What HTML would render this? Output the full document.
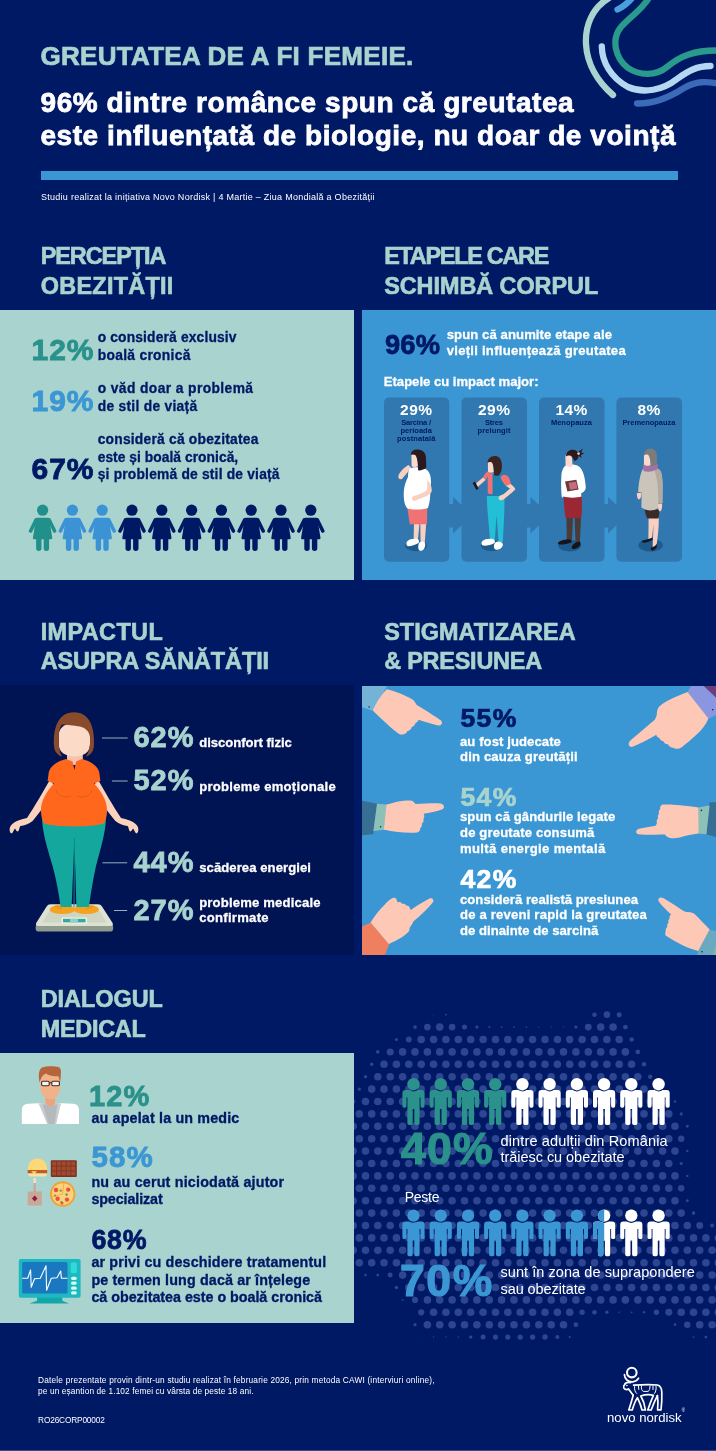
<!DOCTYPE html>
<html lang="ro"><head><meta charset="utf-8"><title>Greutatea de a fi femeie</title>
<style>
html,body{margin:0;padding:0}
body{width:716px;height:1451px;background:#001965;position:relative;overflow:hidden;font-family:"Liberation Sans",Arial,sans-serif}
.panel{position:absolute}
.p1{left:0;top:310px;width:354px;height:270px;background:#a8d3cf}
.p2{left:362px;top:310px;width:354px;height:270px;background:#3b97d3}
.p3{left:0;top:685px;width:354px;height:270px;background:#001353}
.p4{left:362px;top:686px;width:354px;height:269px;background:#3b97d3}
.p5{left:0;top:1053px;width:354px;height:269.5px;background:#a8d3cf}
.bar{position:absolute;left:41px;top:171px;width:637px;height:9px;background:#3b97d3}
.foot{position:absolute;left:0;top:1450px;width:716px;height:1px;background:#3a4a8c}
svg.g{position:absolute;left:0;top:0;width:716px;height:1451px}
.t{position:absolute;white-space:pre;line-height:1;margin:0;font-feature-settings:"liga" 1}
.b{font-weight:700}.r{font-weight:400}
.k3{-webkit-text-stroke:0.028em currentColor}
.k2{-webkit-text-stroke:0.022em currentColor}
</style></head>
<body>
<div class="bar"></div>
<div class="panel p1"></div><div class="panel p2"></div><div class="panel p3"></div><div class="panel p4"></div><div class="panel p5"></div>
<div class="foot"></div>
<svg class="g" viewBox="0 0 716 1451" width="716" height="1451">
<!-- swirl -->
<g fill="none" stroke-linecap="round" stroke-width="6.3">
<path d="M609 -2 C592 8 585 26 586 44 C587 64 598 82 613 95" stroke="#a8d3cf"/>
<path d="M617.5 9.5 C623 7 628 3 633 -3" stroke="#4a9fdc"/>
<path d="M650 -4 C644 8 630 17 621 27 C611 39 615 58 628 68 C640 76 656 76 667 67 C680 56 694 50 720 50.5" stroke="#2a9a8c"/>
<path d="M601.8 46.5 C602 62 611 78 628 87 C644 94 663 90 677 79 C688 71 697 66 710.5 66" stroke="#b5d8f2"/>
<path d="M637 103.5 C655 104 670 97 684 88 C696 81 706 81 720 84" stroke="#3a6ab8"/>
</g>

<!-- dots -->
<clipPath id="dotclip"><rect x="354" y="990" width="362" height="380"/></clipPath>
<g fill="#2e4592" clip-path="url(#dotclip)">
<circle cx="433.6" cy="1014.7" r="0.51"/>
<circle cx="445.9" cy="1014.7" r="0.92"/>
<circle cx="594.5" cy="1014.7" r="2.27"/>
<circle cx="606.9" cy="1014.7" r="3.37"/>
<circle cx="619.2" cy="1014.7" r="2.51"/>
<circle cx="415.0" cy="1027.1" r="1.84"/>
<circle cx="427.4" cy="1027.1" r="3.38"/>
<circle cx="439.7" cy="1027.1" r="3.80"/>
<circle cx="452.1" cy="1027.1" r="3.35"/>
<circle cx="464.5" cy="1027.1" r="2.52"/>
<circle cx="476.9" cy="1027.1" r="1.55"/>
<circle cx="489.3" cy="1027.1" r="1.00"/>
<circle cx="501.6" cy="1027.1" r="0.93"/>
<circle cx="514.0" cy="1027.1" r="0.85"/>
<circle cx="526.4" cy="1027.1" r="0.78"/>
<circle cx="538.8" cy="1027.1" r="0.71"/>
<circle cx="551.2" cy="1027.1" r="0.64"/>
<circle cx="563.5" cy="1027.1" r="0.57"/>
<circle cx="575.9" cy="1027.1" r="1.55"/>
<circle cx="588.3" cy="1027.1" r="3.42"/>
<circle cx="600.7" cy="1027.1" r="3.80"/>
<circle cx="613.1" cy="1027.1" r="3.80"/>
<circle cx="625.4" cy="1027.1" r="2.42"/>
<circle cx="396.4" cy="1039.5" r="1.53"/>
<circle cx="408.8" cy="1039.5" r="2.94"/>
<circle cx="421.2" cy="1039.5" r="3.80"/>
<circle cx="433.6" cy="1039.5" r="3.80"/>
<circle cx="445.9" cy="1039.5" r="3.80"/>
<circle cx="458.3" cy="1039.5" r="3.80"/>
<circle cx="470.7" cy="1039.5" r="3.80"/>
<circle cx="483.1" cy="1039.5" r="3.80"/>
<circle cx="495.5" cy="1039.5" r="3.80"/>
<circle cx="507.8" cy="1039.5" r="3.80"/>
<circle cx="520.2" cy="1039.5" r="3.80"/>
<circle cx="532.6" cy="1039.5" r="3.80"/>
<circle cx="545.0" cy="1039.5" r="3.80"/>
<circle cx="557.4" cy="1039.5" r="3.75"/>
<circle cx="569.7" cy="1039.5" r="3.67"/>
<circle cx="582.1" cy="1039.5" r="3.80"/>
<circle cx="594.5" cy="1039.5" r="3.80"/>
<circle cx="606.9" cy="1039.5" r="3.80"/>
<circle cx="619.2" cy="1039.5" r="3.80"/>
<circle cx="631.6" cy="1039.5" r="2.31"/>
<circle cx="377.8" cy="1051.9" r="1.78"/>
<circle cx="390.2" cy="1051.9" r="3.52"/>
<circle cx="402.6" cy="1051.9" r="3.80"/>
<circle cx="415.0" cy="1051.9" r="3.80"/>
<circle cx="427.4" cy="1051.9" r="3.80"/>
<circle cx="439.7" cy="1051.9" r="3.80"/>
<circle cx="452.1" cy="1051.9" r="3.80"/>
<circle cx="464.5" cy="1051.9" r="3.80"/>
<circle cx="476.9" cy="1051.9" r="3.80"/>
<circle cx="489.3" cy="1051.9" r="3.80"/>
<circle cx="501.6" cy="1051.9" r="3.80"/>
<circle cx="514.0" cy="1051.9" r="3.80"/>
<circle cx="526.4" cy="1051.9" r="3.80"/>
<circle cx="538.8" cy="1051.9" r="3.80"/>
<circle cx="551.2" cy="1051.9" r="3.80"/>
<circle cx="563.5" cy="1051.9" r="3.80"/>
<circle cx="575.9" cy="1051.9" r="3.80"/>
<circle cx="588.3" cy="1051.9" r="3.80"/>
<circle cx="600.7" cy="1051.9" r="3.80"/>
<circle cx="613.1" cy="1051.9" r="3.80"/>
<circle cx="625.4" cy="1051.9" r="3.80"/>
<circle cx="637.8" cy="1051.9" r="2.31"/>
<circle cx="371.7" cy="1064.3" r="1.72"/>
<circle cx="384.0" cy="1064.3" r="3.80"/>
<circle cx="396.4" cy="1064.3" r="3.80"/>
<circle cx="408.8" cy="1064.3" r="3.80"/>
<circle cx="421.2" cy="1064.3" r="3.80"/>
<circle cx="433.6" cy="1064.3" r="3.80"/>
<circle cx="445.9" cy="1064.3" r="3.80"/>
<circle cx="458.3" cy="1064.3" r="3.80"/>
<circle cx="470.7" cy="1064.3" r="3.80"/>
<circle cx="483.1" cy="1064.3" r="3.80"/>
<circle cx="495.5" cy="1064.3" r="3.80"/>
<circle cx="507.8" cy="1064.3" r="3.80"/>
<circle cx="520.2" cy="1064.3" r="3.80"/>
<circle cx="532.6" cy="1064.3" r="3.80"/>
<circle cx="545.0" cy="1064.3" r="3.80"/>
<circle cx="557.4" cy="1064.3" r="3.80"/>
<circle cx="569.7" cy="1064.3" r="3.80"/>
<circle cx="582.1" cy="1064.3" r="3.80"/>
<circle cx="594.5" cy="1064.3" r="3.80"/>
<circle cx="606.9" cy="1064.3" r="3.80"/>
<circle cx="619.2" cy="1064.3" r="3.80"/>
<circle cx="631.6" cy="1064.3" r="3.80"/>
<circle cx="644.0" cy="1064.3" r="2.31"/>
<circle cx="365.5" cy="1076.7" r="1.67"/>
<circle cx="377.8" cy="1076.7" r="3.80"/>
<circle cx="390.2" cy="1076.7" r="3.80"/>
<circle cx="402.6" cy="1076.7" r="3.80"/>
<circle cx="415.0" cy="1076.7" r="3.80"/>
<circle cx="427.4" cy="1076.7" r="3.80"/>
<circle cx="439.7" cy="1076.7" r="3.80"/>
<circle cx="452.1" cy="1076.7" r="3.80"/>
<circle cx="464.5" cy="1076.7" r="3.80"/>
<circle cx="476.9" cy="1076.7" r="3.80"/>
<circle cx="489.3" cy="1076.7" r="3.80"/>
<circle cx="501.6" cy="1076.7" r="3.80"/>
<circle cx="514.0" cy="1076.7" r="3.80"/>
<circle cx="526.4" cy="1076.7" r="3.80"/>
<circle cx="538.8" cy="1076.7" r="3.80"/>
<circle cx="551.2" cy="1076.7" r="3.80"/>
<circle cx="563.5" cy="1076.7" r="3.80"/>
<circle cx="575.9" cy="1076.7" r="3.80"/>
<circle cx="588.3" cy="1076.7" r="3.80"/>
<circle cx="600.7" cy="1076.7" r="3.80"/>
<circle cx="613.1" cy="1076.7" r="3.80"/>
<circle cx="625.4" cy="1076.7" r="3.80"/>
<circle cx="637.8" cy="1076.7" r="3.80"/>
<circle cx="650.2" cy="1076.7" r="2.20"/>
<circle cx="359.3" cy="1089.1" r="1.67"/>
<circle cx="371.7" cy="1089.1" r="3.80"/>
<circle cx="384.0" cy="1089.1" r="3.80"/>
<circle cx="396.4" cy="1089.1" r="3.80"/>
<circle cx="408.8" cy="1089.1" r="3.80"/>
<circle cx="421.2" cy="1089.1" r="3.80"/>
<circle cx="433.6" cy="1089.1" r="3.80"/>
<circle cx="445.9" cy="1089.1" r="3.80"/>
<circle cx="458.3" cy="1089.1" r="3.80"/>
<circle cx="470.7" cy="1089.1" r="3.80"/>
<circle cx="483.1" cy="1089.1" r="3.80"/>
<circle cx="495.5" cy="1089.1" r="3.80"/>
<circle cx="507.8" cy="1089.1" r="3.80"/>
<circle cx="520.2" cy="1089.1" r="3.80"/>
<circle cx="532.6" cy="1089.1" r="3.80"/>
<circle cx="545.0" cy="1089.1" r="3.80"/>
<circle cx="557.4" cy="1089.1" r="3.80"/>
<circle cx="569.7" cy="1089.1" r="3.80"/>
<circle cx="582.1" cy="1089.1" r="3.80"/>
<circle cx="594.5" cy="1089.1" r="3.80"/>
<circle cx="606.9" cy="1089.1" r="3.80"/>
<circle cx="619.2" cy="1089.1" r="3.80"/>
<circle cx="631.6" cy="1089.1" r="3.80"/>
<circle cx="644.0" cy="1089.1" r="3.80"/>
<circle cx="656.4" cy="1089.1" r="2.63"/>
<circle cx="353.1" cy="1101.5" r="2.21"/>
<circle cx="365.5" cy="1101.5" r="3.80"/>
<circle cx="377.8" cy="1101.5" r="3.80"/>
<circle cx="390.2" cy="1101.5" r="3.80"/>
<circle cx="402.6" cy="1101.5" r="3.80"/>
<circle cx="415.0" cy="1101.5" r="3.80"/>
<circle cx="427.4" cy="1101.5" r="3.80"/>
<circle cx="439.7" cy="1101.5" r="3.80"/>
<circle cx="452.1" cy="1101.5" r="3.80"/>
<circle cx="464.5" cy="1101.5" r="3.80"/>
<circle cx="476.9" cy="1101.5" r="3.80"/>
<circle cx="489.3" cy="1101.5" r="3.80"/>
<circle cx="501.6" cy="1101.5" r="3.80"/>
<circle cx="514.0" cy="1101.5" r="3.80"/>
<circle cx="526.4" cy="1101.5" r="3.80"/>
<circle cx="538.8" cy="1101.5" r="3.80"/>
<circle cx="551.2" cy="1101.5" r="3.80"/>
<circle cx="563.5" cy="1101.5" r="3.80"/>
<circle cx="575.9" cy="1101.5" r="3.80"/>
<circle cx="588.3" cy="1101.5" r="3.80"/>
<circle cx="600.7" cy="1101.5" r="3.80"/>
<circle cx="613.1" cy="1101.5" r="3.80"/>
<circle cx="625.4" cy="1101.5" r="3.80"/>
<circle cx="637.8" cy="1101.5" r="3.80"/>
<circle cx="650.2" cy="1101.5" r="3.80"/>
<circle cx="662.6" cy="1101.5" r="3.70"/>
<circle cx="675.0" cy="1101.5" r="1.28"/>
<circle cx="346.9" cy="1113.9" r="3.80"/>
<circle cx="359.3" cy="1113.9" r="3.80"/>
<circle cx="371.7" cy="1113.9" r="3.80"/>
<circle cx="384.0" cy="1113.9" r="3.80"/>
<circle cx="396.4" cy="1113.9" r="3.80"/>
<circle cx="408.8" cy="1113.9" r="3.80"/>
<circle cx="421.2" cy="1113.9" r="3.80"/>
<circle cx="433.6" cy="1113.9" r="3.80"/>
<circle cx="445.9" cy="1113.9" r="3.80"/>
<circle cx="458.3" cy="1113.9" r="3.80"/>
<circle cx="470.7" cy="1113.9" r="3.80"/>
<circle cx="483.1" cy="1113.9" r="3.80"/>
<circle cx="495.5" cy="1113.9" r="3.80"/>
<circle cx="507.8" cy="1113.9" r="3.80"/>
<circle cx="520.2" cy="1113.9" r="3.80"/>
<circle cx="532.6" cy="1113.9" r="3.80"/>
<circle cx="545.0" cy="1113.9" r="3.80"/>
<circle cx="557.4" cy="1113.9" r="3.80"/>
<circle cx="569.7" cy="1113.9" r="3.80"/>
<circle cx="582.1" cy="1113.9" r="3.80"/>
<circle cx="594.5" cy="1113.9" r="3.80"/>
<circle cx="606.9" cy="1113.9" r="3.80"/>
<circle cx="619.2" cy="1113.9" r="3.80"/>
<circle cx="631.6" cy="1113.9" r="3.80"/>
<circle cx="644.0" cy="1113.9" r="3.80"/>
<circle cx="656.4" cy="1113.9" r="3.80"/>
<circle cx="668.8" cy="1113.9" r="3.80"/>
<circle cx="681.2" cy="1113.9" r="1.55"/>
<circle cx="353.1" cy="1126.3" r="3.80"/>
<circle cx="365.5" cy="1126.3" r="3.80"/>
<circle cx="377.8" cy="1126.3" r="3.80"/>
<circle cx="390.2" cy="1126.3" r="3.80"/>
<circle cx="402.6" cy="1126.3" r="3.80"/>
<circle cx="415.0" cy="1126.3" r="3.80"/>
<circle cx="427.4" cy="1126.3" r="3.80"/>
<circle cx="439.7" cy="1126.3" r="3.80"/>
<circle cx="452.1" cy="1126.3" r="3.80"/>
<circle cx="464.5" cy="1126.3" r="3.80"/>
<circle cx="476.9" cy="1126.3" r="3.80"/>
<circle cx="489.3" cy="1126.3" r="3.80"/>
<circle cx="501.6" cy="1126.3" r="3.80"/>
<circle cx="514.0" cy="1126.3" r="3.80"/>
<circle cx="526.4" cy="1126.3" r="3.80"/>
<circle cx="538.8" cy="1126.3" r="3.80"/>
<circle cx="551.2" cy="1126.3" r="3.80"/>
<circle cx="563.5" cy="1126.3" r="3.80"/>
<circle cx="575.9" cy="1126.3" r="3.80"/>
<circle cx="588.3" cy="1126.3" r="3.80"/>
<circle cx="600.7" cy="1126.3" r="3.80"/>
<circle cx="613.1" cy="1126.3" r="3.80"/>
<circle cx="625.4" cy="1126.3" r="3.80"/>
<circle cx="637.8" cy="1126.3" r="3.80"/>
<circle cx="650.2" cy="1126.3" r="3.80"/>
<circle cx="662.6" cy="1126.3" r="3.80"/>
<circle cx="675.0" cy="1126.3" r="3.80"/>
<circle cx="687.3" cy="1126.3" r="1.44"/>
<circle cx="346.9" cy="1138.7" r="3.80"/>
<circle cx="359.3" cy="1138.7" r="3.80"/>
<circle cx="371.7" cy="1138.7" r="3.80"/>
<circle cx="384.0" cy="1138.7" r="3.80"/>
<circle cx="396.4" cy="1138.7" r="3.80"/>
<circle cx="408.8" cy="1138.7" r="3.80"/>
<circle cx="421.2" cy="1138.7" r="3.80"/>
<circle cx="433.6" cy="1138.7" r="3.80"/>
<circle cx="445.9" cy="1138.7" r="3.80"/>
<circle cx="458.3" cy="1138.7" r="3.80"/>
<circle cx="470.7" cy="1138.7" r="3.80"/>
<circle cx="483.1" cy="1138.7" r="3.80"/>
<circle cx="495.5" cy="1138.7" r="3.80"/>
<circle cx="507.8" cy="1138.7" r="3.80"/>
<circle cx="520.2" cy="1138.7" r="3.80"/>
<circle cx="532.6" cy="1138.7" r="3.80"/>
<circle cx="545.0" cy="1138.7" r="3.80"/>
<circle cx="557.4" cy="1138.7" r="3.80"/>
<circle cx="569.7" cy="1138.7" r="3.80"/>
<circle cx="582.1" cy="1138.7" r="3.80"/>
<circle cx="594.5" cy="1138.7" r="3.80"/>
<circle cx="606.9" cy="1138.7" r="3.80"/>
<circle cx="619.2" cy="1138.7" r="3.80"/>
<circle cx="631.6" cy="1138.7" r="3.80"/>
<circle cx="644.0" cy="1138.7" r="3.80"/>
<circle cx="656.4" cy="1138.7" r="3.80"/>
<circle cx="668.8" cy="1138.7" r="3.80"/>
<circle cx="681.2" cy="1138.7" r="3.23"/>
<circle cx="353.1" cy="1151.1" r="3.80"/>
<circle cx="365.5" cy="1151.1" r="3.80"/>
<circle cx="377.8" cy="1151.1" r="3.80"/>
<circle cx="390.2" cy="1151.1" r="3.80"/>
<circle cx="402.6" cy="1151.1" r="3.80"/>
<circle cx="415.0" cy="1151.1" r="3.80"/>
<circle cx="427.4" cy="1151.1" r="3.80"/>
<circle cx="439.7" cy="1151.1" r="3.80"/>
<circle cx="452.1" cy="1151.1" r="3.80"/>
<circle cx="464.5" cy="1151.1" r="3.80"/>
<circle cx="476.9" cy="1151.1" r="3.80"/>
<circle cx="489.3" cy="1151.1" r="3.80"/>
<circle cx="501.6" cy="1151.1" r="3.80"/>
<circle cx="514.0" cy="1151.1" r="3.80"/>
<circle cx="526.4" cy="1151.1" r="3.80"/>
<circle cx="538.8" cy="1151.1" r="3.80"/>
<circle cx="551.2" cy="1151.1" r="3.80"/>
<circle cx="563.5" cy="1151.1" r="3.80"/>
<circle cx="575.9" cy="1151.1" r="3.80"/>
<circle cx="588.3" cy="1151.1" r="3.80"/>
<circle cx="600.7" cy="1151.1" r="3.80"/>
<circle cx="613.1" cy="1151.1" r="3.80"/>
<circle cx="625.4" cy="1151.1" r="3.80"/>
<circle cx="637.8" cy="1151.1" r="3.80"/>
<circle cx="650.2" cy="1151.1" r="3.80"/>
<circle cx="662.6" cy="1151.1" r="3.80"/>
<circle cx="675.0" cy="1151.1" r="3.80"/>
<circle cx="687.3" cy="1151.1" r="1.23"/>
<circle cx="346.9" cy="1163.5" r="3.80"/>
<circle cx="359.3" cy="1163.5" r="3.80"/>
<circle cx="371.7" cy="1163.5" r="3.80"/>
<circle cx="384.0" cy="1163.5" r="3.80"/>
<circle cx="396.4" cy="1163.5" r="3.80"/>
<circle cx="408.8" cy="1163.5" r="3.80"/>
<circle cx="421.2" cy="1163.5" r="3.80"/>
<circle cx="433.6" cy="1163.5" r="3.80"/>
<circle cx="445.9" cy="1163.5" r="3.80"/>
<circle cx="458.3" cy="1163.5" r="3.80"/>
<circle cx="470.7" cy="1163.5" r="3.80"/>
<circle cx="483.1" cy="1163.5" r="3.80"/>
<circle cx="495.5" cy="1163.5" r="3.80"/>
<circle cx="507.8" cy="1163.5" r="3.80"/>
<circle cx="520.2" cy="1163.5" r="3.80"/>
<circle cx="532.6" cy="1163.5" r="3.80"/>
<circle cx="545.0" cy="1163.5" r="3.80"/>
<circle cx="557.4" cy="1163.5" r="3.80"/>
<circle cx="569.7" cy="1163.5" r="3.80"/>
<circle cx="582.1" cy="1163.5" r="3.80"/>
<circle cx="594.5" cy="1163.5" r="3.80"/>
<circle cx="606.9" cy="1163.5" r="3.80"/>
<circle cx="619.2" cy="1163.5" r="3.80"/>
<circle cx="631.6" cy="1163.5" r="3.80"/>
<circle cx="644.0" cy="1163.5" r="3.80"/>
<circle cx="656.4" cy="1163.5" r="3.80"/>
<circle cx="668.8" cy="1163.5" r="3.80"/>
<circle cx="681.2" cy="1163.5" r="1.56"/>
<circle cx="353.1" cy="1175.9" r="3.80"/>
<circle cx="365.5" cy="1175.9" r="3.80"/>
<circle cx="377.8" cy="1175.9" r="3.80"/>
<circle cx="390.2" cy="1175.9" r="3.80"/>
<circle cx="402.6" cy="1175.9" r="3.80"/>
<circle cx="415.0" cy="1175.9" r="3.80"/>
<circle cx="427.4" cy="1175.9" r="3.80"/>
<circle cx="439.7" cy="1175.9" r="3.80"/>
<circle cx="452.1" cy="1175.9" r="3.80"/>
<circle cx="464.5" cy="1175.9" r="3.80"/>
<circle cx="476.9" cy="1175.9" r="3.80"/>
<circle cx="489.3" cy="1175.9" r="3.80"/>
<circle cx="501.6" cy="1175.9" r="3.80"/>
<circle cx="514.0" cy="1175.9" r="3.80"/>
<circle cx="526.4" cy="1175.9" r="3.80"/>
<circle cx="538.8" cy="1175.9" r="3.80"/>
<circle cx="551.2" cy="1175.9" r="3.80"/>
<circle cx="563.5" cy="1175.9" r="3.80"/>
<circle cx="575.9" cy="1175.9" r="3.80"/>
<circle cx="588.3" cy="1175.9" r="3.80"/>
<circle cx="600.7" cy="1175.9" r="3.80"/>
<circle cx="613.1" cy="1175.9" r="3.80"/>
<circle cx="625.4" cy="1175.9" r="3.80"/>
<circle cx="637.8" cy="1175.9" r="3.80"/>
<circle cx="650.2" cy="1175.9" r="3.80"/>
<circle cx="662.6" cy="1175.9" r="3.80"/>
<circle cx="675.0" cy="1175.9" r="3.80"/>
<circle cx="687.3" cy="1175.9" r="1.19"/>
<circle cx="346.9" cy="1188.3" r="3.80"/>
<circle cx="359.3" cy="1188.3" r="3.80"/>
<circle cx="371.7" cy="1188.3" r="3.80"/>
<circle cx="384.0" cy="1188.3" r="3.80"/>
<circle cx="396.4" cy="1188.3" r="3.80"/>
<circle cx="408.8" cy="1188.3" r="3.80"/>
<circle cx="421.2" cy="1188.3" r="3.80"/>
<circle cx="433.6" cy="1188.3" r="3.80"/>
<circle cx="445.9" cy="1188.3" r="3.80"/>
<circle cx="458.3" cy="1188.3" r="3.80"/>
<circle cx="470.7" cy="1188.3" r="3.80"/>
<circle cx="483.1" cy="1188.3" r="3.80"/>
<circle cx="495.5" cy="1188.3" r="3.80"/>
<circle cx="507.8" cy="1188.3" r="3.80"/>
<circle cx="520.2" cy="1188.3" r="3.80"/>
<circle cx="532.6" cy="1188.3" r="3.80"/>
<circle cx="545.0" cy="1188.3" r="3.80"/>
<circle cx="557.4" cy="1188.3" r="3.80"/>
<circle cx="569.7" cy="1188.3" r="3.80"/>
<circle cx="582.1" cy="1188.3" r="3.80"/>
<circle cx="594.5" cy="1188.3" r="3.80"/>
<circle cx="606.9" cy="1188.3" r="3.80"/>
<circle cx="619.2" cy="1188.3" r="3.80"/>
<circle cx="631.6" cy="1188.3" r="3.80"/>
<circle cx="644.0" cy="1188.3" r="3.80"/>
<circle cx="656.4" cy="1188.3" r="3.80"/>
<circle cx="668.8" cy="1188.3" r="3.80"/>
<circle cx="681.2" cy="1188.3" r="3.25"/>
<circle cx="353.1" cy="1200.7" r="3.80"/>
<circle cx="365.5" cy="1200.7" r="3.80"/>
<circle cx="377.8" cy="1200.7" r="3.80"/>
<circle cx="390.2" cy="1200.7" r="3.80"/>
<circle cx="402.6" cy="1200.7" r="3.80"/>
<circle cx="415.0" cy="1200.7" r="3.80"/>
<circle cx="427.4" cy="1200.7" r="3.80"/>
<circle cx="439.7" cy="1200.7" r="3.80"/>
<circle cx="452.1" cy="1200.7" r="3.80"/>
<circle cx="464.5" cy="1200.7" r="3.80"/>
<circle cx="476.9" cy="1200.7" r="3.80"/>
<circle cx="489.3" cy="1200.7" r="3.80"/>
<circle cx="501.6" cy="1200.7" r="3.80"/>
<circle cx="514.0" cy="1200.7" r="3.80"/>
<circle cx="526.4" cy="1200.7" r="3.80"/>
<circle cx="538.8" cy="1200.7" r="3.80"/>
<circle cx="551.2" cy="1200.7" r="3.80"/>
<circle cx="563.5" cy="1200.7" r="3.80"/>
<circle cx="575.9" cy="1200.7" r="3.80"/>
<circle cx="588.3" cy="1200.7" r="3.80"/>
<circle cx="600.7" cy="1200.7" r="3.80"/>
<circle cx="613.1" cy="1200.7" r="3.80"/>
<circle cx="625.4" cy="1200.7" r="3.80"/>
<circle cx="637.8" cy="1200.7" r="3.80"/>
<circle cx="650.2" cy="1200.7" r="3.80"/>
<circle cx="662.6" cy="1200.7" r="3.80"/>
<circle cx="675.0" cy="1200.7" r="3.80"/>
<circle cx="687.3" cy="1200.7" r="1.49"/>
<circle cx="346.9" cy="1213.1" r="3.80"/>
<circle cx="359.3" cy="1213.1" r="3.80"/>
<circle cx="371.7" cy="1213.1" r="3.80"/>
<circle cx="384.0" cy="1213.1" r="3.80"/>
<circle cx="396.4" cy="1213.1" r="3.80"/>
<circle cx="408.8" cy="1213.1" r="3.80"/>
<circle cx="421.2" cy="1213.1" r="3.80"/>
<circle cx="433.6" cy="1213.1" r="3.80"/>
<circle cx="445.9" cy="1213.1" r="3.80"/>
<circle cx="458.3" cy="1213.1" r="3.80"/>
<circle cx="470.7" cy="1213.1" r="3.80"/>
<circle cx="483.1" cy="1213.1" r="3.80"/>
<circle cx="495.5" cy="1213.1" r="3.80"/>
<circle cx="507.8" cy="1213.1" r="3.80"/>
<circle cx="520.2" cy="1213.1" r="3.80"/>
<circle cx="532.6" cy="1213.1" r="3.80"/>
<circle cx="545.0" cy="1213.1" r="3.80"/>
<circle cx="557.4" cy="1213.1" r="3.80"/>
<circle cx="569.7" cy="1213.1" r="3.80"/>
<circle cx="582.1" cy="1213.1" r="3.80"/>
<circle cx="594.5" cy="1213.1" r="3.80"/>
<circle cx="606.9" cy="1213.1" r="3.80"/>
<circle cx="619.2" cy="1213.1" r="3.80"/>
<circle cx="631.6" cy="1213.1" r="3.80"/>
<circle cx="644.0" cy="1213.1" r="3.80"/>
<circle cx="656.4" cy="1213.1" r="3.80"/>
<circle cx="668.8" cy="1213.1" r="3.80"/>
<circle cx="681.2" cy="1213.1" r="3.80"/>
<circle cx="693.5" cy="1213.1" r="1.79"/>
<circle cx="353.1" cy="1225.5" r="3.80"/>
<circle cx="365.5" cy="1225.5" r="3.80"/>
<circle cx="377.8" cy="1225.5" r="3.80"/>
<circle cx="390.2" cy="1225.5" r="3.80"/>
<circle cx="402.6" cy="1225.5" r="3.80"/>
<circle cx="415.0" cy="1225.5" r="3.80"/>
<circle cx="427.4" cy="1225.5" r="3.80"/>
<circle cx="439.7" cy="1225.5" r="3.80"/>
<circle cx="452.1" cy="1225.5" r="3.80"/>
<circle cx="464.5" cy="1225.5" r="3.80"/>
<circle cx="476.9" cy="1225.5" r="3.80"/>
<circle cx="489.3" cy="1225.5" r="3.80"/>
<circle cx="501.6" cy="1225.5" r="3.80"/>
<circle cx="514.0" cy="1225.5" r="3.80"/>
<circle cx="526.4" cy="1225.5" r="3.80"/>
<circle cx="538.8" cy="1225.5" r="3.80"/>
<circle cx="551.2" cy="1225.5" r="3.80"/>
<circle cx="563.5" cy="1225.5" r="3.80"/>
<circle cx="575.9" cy="1225.5" r="3.80"/>
<circle cx="588.3" cy="1225.5" r="3.80"/>
<circle cx="600.7" cy="1225.5" r="3.80"/>
<circle cx="613.1" cy="1225.5" r="3.80"/>
<circle cx="625.4" cy="1225.5" r="3.80"/>
<circle cx="637.8" cy="1225.5" r="3.80"/>
<circle cx="650.2" cy="1225.5" r="3.80"/>
<circle cx="662.6" cy="1225.5" r="3.80"/>
<circle cx="675.0" cy="1225.5" r="3.80"/>
<circle cx="687.3" cy="1225.5" r="3.80"/>
<circle cx="699.7" cy="1225.5" r="3.46"/>
<circle cx="712.1" cy="1225.5" r="1.96"/>
<circle cx="346.9" cy="1237.9" r="3.80"/>
<circle cx="359.3" cy="1237.9" r="3.80"/>
<circle cx="371.7" cy="1237.9" r="3.80"/>
<circle cx="384.0" cy="1237.9" r="3.80"/>
<circle cx="396.4" cy="1237.9" r="3.80"/>
<circle cx="408.8" cy="1237.9" r="3.80"/>
<circle cx="421.2" cy="1237.9" r="3.80"/>
<circle cx="433.6" cy="1237.9" r="3.80"/>
<circle cx="445.9" cy="1237.9" r="3.80"/>
<circle cx="458.3" cy="1237.9" r="3.80"/>
<circle cx="470.7" cy="1237.9" r="3.80"/>
<circle cx="483.1" cy="1237.9" r="3.80"/>
<circle cx="495.5" cy="1237.9" r="3.80"/>
<circle cx="507.8" cy="1237.9" r="3.80"/>
<circle cx="520.2" cy="1237.9" r="3.80"/>
<circle cx="532.6" cy="1237.9" r="3.80"/>
<circle cx="545.0" cy="1237.9" r="3.80"/>
<circle cx="557.4" cy="1237.9" r="3.80"/>
<circle cx="569.7" cy="1237.9" r="3.80"/>
<circle cx="582.1" cy="1237.9" r="3.80"/>
<circle cx="594.5" cy="1237.9" r="3.80"/>
<circle cx="606.9" cy="1237.9" r="3.80"/>
<circle cx="619.2" cy="1237.9" r="3.80"/>
<circle cx="631.6" cy="1237.9" r="3.80"/>
<circle cx="644.0" cy="1237.9" r="3.80"/>
<circle cx="656.4" cy="1237.9" r="3.80"/>
<circle cx="668.8" cy="1237.9" r="3.80"/>
<circle cx="681.2" cy="1237.9" r="3.80"/>
<circle cx="693.5" cy="1237.9" r="3.80"/>
<circle cx="705.9" cy="1237.9" r="3.80"/>
<circle cx="718.3" cy="1237.9" r="3.80"/>
<circle cx="353.1" cy="1250.3" r="3.80"/>
<circle cx="365.5" cy="1250.3" r="3.80"/>
<circle cx="377.8" cy="1250.3" r="3.80"/>
<circle cx="390.2" cy="1250.3" r="3.80"/>
<circle cx="402.6" cy="1250.3" r="3.80"/>
<circle cx="415.0" cy="1250.3" r="3.80"/>
<circle cx="427.4" cy="1250.3" r="3.80"/>
<circle cx="439.7" cy="1250.3" r="3.80"/>
<circle cx="452.1" cy="1250.3" r="3.80"/>
<circle cx="464.5" cy="1250.3" r="3.80"/>
<circle cx="476.9" cy="1250.3" r="3.80"/>
<circle cx="489.3" cy="1250.3" r="3.80"/>
<circle cx="501.6" cy="1250.3" r="3.80"/>
<circle cx="514.0" cy="1250.3" r="3.80"/>
<circle cx="526.4" cy="1250.3" r="3.80"/>
<circle cx="538.8" cy="1250.3" r="3.80"/>
<circle cx="551.2" cy="1250.3" r="3.80"/>
<circle cx="563.5" cy="1250.3" r="3.80"/>
<circle cx="575.9" cy="1250.3" r="3.80"/>
<circle cx="588.3" cy="1250.3" r="3.80"/>
<circle cx="600.7" cy="1250.3" r="3.80"/>
<circle cx="613.1" cy="1250.3" r="3.80"/>
<circle cx="625.4" cy="1250.3" r="3.80"/>
<circle cx="637.8" cy="1250.3" r="3.80"/>
<circle cx="650.2" cy="1250.3" r="3.80"/>
<circle cx="662.6" cy="1250.3" r="3.80"/>
<circle cx="675.0" cy="1250.3" r="3.80"/>
<circle cx="687.3" cy="1250.3" r="3.80"/>
<circle cx="699.7" cy="1250.3" r="3.80"/>
<circle cx="712.1" cy="1250.3" r="3.80"/>
<circle cx="346.9" cy="1262.7" r="3.80"/>
<circle cx="359.3" cy="1262.7" r="3.80"/>
<circle cx="371.7" cy="1262.7" r="3.80"/>
<circle cx="384.0" cy="1262.7" r="3.80"/>
<circle cx="396.4" cy="1262.7" r="3.80"/>
<circle cx="408.8" cy="1262.7" r="3.80"/>
<circle cx="421.2" cy="1262.7" r="3.80"/>
<circle cx="433.6" cy="1262.7" r="3.80"/>
<circle cx="445.9" cy="1262.7" r="3.80"/>
<circle cx="458.3" cy="1262.7" r="3.80"/>
<circle cx="470.7" cy="1262.7" r="3.80"/>
<circle cx="483.1" cy="1262.7" r="3.80"/>
<circle cx="495.5" cy="1262.7" r="3.80"/>
<circle cx="507.8" cy="1262.7" r="3.80"/>
<circle cx="520.2" cy="1262.7" r="3.80"/>
<circle cx="532.6" cy="1262.7" r="3.80"/>
<circle cx="545.0" cy="1262.7" r="3.80"/>
<circle cx="557.4" cy="1262.7" r="3.80"/>
<circle cx="569.7" cy="1262.7" r="3.80"/>
<circle cx="582.1" cy="1262.7" r="3.80"/>
<circle cx="594.5" cy="1262.7" r="3.80"/>
<circle cx="606.9" cy="1262.7" r="3.80"/>
<circle cx="619.2" cy="1262.7" r="3.80"/>
<circle cx="631.6" cy="1262.7" r="3.80"/>
<circle cx="644.0" cy="1262.7" r="3.80"/>
<circle cx="656.4" cy="1262.7" r="3.80"/>
<circle cx="668.8" cy="1262.7" r="3.80"/>
<circle cx="681.2" cy="1262.7" r="3.80"/>
<circle cx="693.5" cy="1262.7" r="3.80"/>
<circle cx="705.9" cy="1262.7" r="3.80"/>
<circle cx="718.3" cy="1262.7" r="3.80"/>
<circle cx="353.1" cy="1275.1" r="1.20"/>
<circle cx="365.5" cy="1275.1" r="1.32"/>
<circle cx="377.8" cy="1275.1" r="1.43"/>
<circle cx="390.2" cy="1275.1" r="2.49"/>
<circle cx="402.6" cy="1275.1" r="3.80"/>
<circle cx="415.0" cy="1275.1" r="3.80"/>
<circle cx="427.4" cy="1275.1" r="3.80"/>
<circle cx="439.7" cy="1275.1" r="3.80"/>
<circle cx="452.1" cy="1275.1" r="3.80"/>
<circle cx="464.5" cy="1275.1" r="3.80"/>
<circle cx="476.9" cy="1275.1" r="3.80"/>
<circle cx="489.3" cy="1275.1" r="3.80"/>
<circle cx="501.6" cy="1275.1" r="3.80"/>
<circle cx="514.0" cy="1275.1" r="3.80"/>
<circle cx="526.4" cy="1275.1" r="3.80"/>
<circle cx="538.8" cy="1275.1" r="3.80"/>
<circle cx="551.2" cy="1275.1" r="3.80"/>
<circle cx="563.5" cy="1275.1" r="3.80"/>
<circle cx="575.9" cy="1275.1" r="3.80"/>
<circle cx="588.3" cy="1275.1" r="3.80"/>
<circle cx="600.7" cy="1275.1" r="3.80"/>
<circle cx="613.1" cy="1275.1" r="3.80"/>
<circle cx="625.4" cy="1275.1" r="3.80"/>
<circle cx="637.8" cy="1275.1" r="3.80"/>
<circle cx="650.2" cy="1275.1" r="3.80"/>
<circle cx="662.6" cy="1275.1" r="3.80"/>
<circle cx="675.0" cy="1275.1" r="3.80"/>
<circle cx="687.3" cy="1275.1" r="3.80"/>
<circle cx="699.7" cy="1275.1" r="3.80"/>
<circle cx="712.1" cy="1275.1" r="3.80"/>
<circle cx="396.4" cy="1287.5" r="1.75"/>
<circle cx="408.8" cy="1287.5" r="3.80"/>
<circle cx="421.2" cy="1287.5" r="3.80"/>
<circle cx="433.6" cy="1287.5" r="3.80"/>
<circle cx="445.9" cy="1287.5" r="3.80"/>
<circle cx="458.3" cy="1287.5" r="3.80"/>
<circle cx="470.7" cy="1287.5" r="3.80"/>
<circle cx="483.1" cy="1287.5" r="3.80"/>
<circle cx="495.5" cy="1287.5" r="3.80"/>
<circle cx="507.8" cy="1287.5" r="3.80"/>
<circle cx="520.2" cy="1287.5" r="3.80"/>
<circle cx="532.6" cy="1287.5" r="3.80"/>
<circle cx="545.0" cy="1287.5" r="3.80"/>
<circle cx="557.4" cy="1287.5" r="3.80"/>
<circle cx="569.7" cy="1287.5" r="3.80"/>
<circle cx="582.1" cy="1287.5" r="3.80"/>
<circle cx="594.5" cy="1287.5" r="3.80"/>
<circle cx="606.9" cy="1287.5" r="3.80"/>
<circle cx="619.2" cy="1287.5" r="3.80"/>
<circle cx="631.6" cy="1287.5" r="3.80"/>
<circle cx="644.0" cy="1287.5" r="3.80"/>
<circle cx="656.4" cy="1287.5" r="3.80"/>
<circle cx="668.8" cy="1287.5" r="3.80"/>
<circle cx="681.2" cy="1287.5" r="3.80"/>
<circle cx="693.5" cy="1287.5" r="3.80"/>
<circle cx="705.9" cy="1287.5" r="3.80"/>
<circle cx="718.3" cy="1287.5" r="3.80"/>
<circle cx="402.6" cy="1299.9" r="0.88"/>
<circle cx="415.0" cy="1299.9" r="3.08"/>
<circle cx="427.4" cy="1299.9" r="3.80"/>
<circle cx="439.7" cy="1299.9" r="3.80"/>
<circle cx="452.1" cy="1299.9" r="3.80"/>
<circle cx="464.5" cy="1299.9" r="3.80"/>
<circle cx="476.9" cy="1299.9" r="3.80"/>
<circle cx="489.3" cy="1299.9" r="3.80"/>
<circle cx="501.6" cy="1299.9" r="3.80"/>
<circle cx="514.0" cy="1299.9" r="3.80"/>
<circle cx="526.4" cy="1299.9" r="3.80"/>
<circle cx="538.8" cy="1299.9" r="3.80"/>
<circle cx="551.2" cy="1299.9" r="3.80"/>
<circle cx="563.5" cy="1299.9" r="3.80"/>
<circle cx="575.9" cy="1299.9" r="3.80"/>
<circle cx="588.3" cy="1299.9" r="3.80"/>
<circle cx="600.7" cy="1299.9" r="3.80"/>
<circle cx="613.1" cy="1299.9" r="3.80"/>
<circle cx="625.4" cy="1299.9" r="3.80"/>
<circle cx="637.8" cy="1299.9" r="3.80"/>
<circle cx="650.2" cy="1299.9" r="3.80"/>
<circle cx="662.6" cy="1299.9" r="3.80"/>
<circle cx="675.0" cy="1299.9" r="3.80"/>
<circle cx="687.3" cy="1299.9" r="3.80"/>
<circle cx="699.7" cy="1299.9" r="3.80"/>
<circle cx="712.1" cy="1299.9" r="3.80"/>
<circle cx="421.2" cy="1312.3" r="3.09"/>
<circle cx="433.6" cy="1312.3" r="3.80"/>
<circle cx="445.9" cy="1312.3" r="3.80"/>
<circle cx="458.3" cy="1312.3" r="3.80"/>
<circle cx="470.7" cy="1312.3" r="3.80"/>
<circle cx="483.1" cy="1312.3" r="3.80"/>
<circle cx="495.5" cy="1312.3" r="3.80"/>
<circle cx="507.8" cy="1312.3" r="3.80"/>
<circle cx="520.2" cy="1312.3" r="3.80"/>
<circle cx="532.6" cy="1312.3" r="3.80"/>
<circle cx="545.0" cy="1312.3" r="3.80"/>
<circle cx="557.4" cy="1312.3" r="3.80"/>
<circle cx="569.7" cy="1312.3" r="3.80"/>
<circle cx="582.1" cy="1312.3" r="2.70"/>
<circle cx="594.5" cy="1312.3" r="2.36"/>
<circle cx="606.9" cy="1312.3" r="1.71"/>
<circle cx="619.2" cy="1312.3" r="0.81"/>
<circle cx="631.6" cy="1312.3" r="0.92"/>
<circle cx="644.0" cy="1312.3" r="1.20"/>
<circle cx="656.4" cy="1312.3" r="2.71"/>
<circle cx="668.8" cy="1312.3" r="3.48"/>
<circle cx="681.2" cy="1312.3" r="3.80"/>
<circle cx="693.5" cy="1312.3" r="3.80"/>
<circle cx="705.9" cy="1312.3" r="3.80"/>
<circle cx="718.3" cy="1312.3" r="3.80"/>
<circle cx="415.0" cy="1324.7" r="1.61"/>
<circle cx="427.4" cy="1324.7" r="3.80"/>
<circle cx="439.7" cy="1324.7" r="3.80"/>
<circle cx="452.1" cy="1324.7" r="3.80"/>
<circle cx="464.5" cy="1324.7" r="3.80"/>
<circle cx="476.9" cy="1324.7" r="3.80"/>
<circle cx="489.3" cy="1324.7" r="3.80"/>
<circle cx="501.6" cy="1324.7" r="3.80"/>
<circle cx="514.0" cy="1324.7" r="3.80"/>
<circle cx="526.4" cy="1324.7" r="3.80"/>
<circle cx="538.8" cy="1324.7" r="3.80"/>
<circle cx="551.2" cy="1324.7" r="3.80"/>
<circle cx="563.5" cy="1324.7" r="3.80"/>
<circle cx="575.9" cy="1324.7" r="2.33"/>
<circle cx="675.0" cy="1324.7" r="1.35"/>
<circle cx="687.3" cy="1324.7" r="3.21"/>
<circle cx="699.7" cy="1324.7" r="3.80"/>
<circle cx="712.1" cy="1324.7" r="3.80"/>
<circle cx="421.2" cy="1337.1" r="0.46"/>
<circle cx="433.6" cy="1337.1" r="0.73"/>
<circle cx="445.9" cy="1337.1" r="0.73"/>
<circle cx="458.3" cy="1337.1" r="0.73"/>
<circle cx="470.7" cy="1337.1" r="1.72"/>
<circle cx="483.1" cy="1337.1" r="2.52"/>
<circle cx="495.5" cy="1337.1" r="2.57"/>
<circle cx="507.8" cy="1337.1" r="2.62"/>
<circle cx="520.2" cy="1337.1" r="2.66"/>
<circle cx="532.6" cy="1337.1" r="2.71"/>
<circle cx="545.0" cy="1337.1" r="2.75"/>
<circle cx="557.4" cy="1337.1" r="2.02"/>
<circle cx="569.7" cy="1337.1" r="1.06"/>
<circle cx="693.5" cy="1337.1" r="0.96"/>
<circle cx="705.9" cy="1337.1" r="1.42"/>
<circle cx="718.3" cy="1337.1" r="1.26"/>
</g>
<!-- women_row -->
<g transform="translate(42.6,504.6)" fill="#22908a" stroke="#22908a">
<circle cx="0" cy="5.6" r="5.6" stroke="none"/>
<path d="M-5.6 14.2 L5.6 14.2 L8.6 33.6 L-8.6 33.6 Z" stroke-width="2.2" stroke-linejoin="round"/>
<path d="M-6.6 15.4 L-12 26.4 M6.6 15.4 L12 26.4" stroke-width="3.6" stroke-linecap="round" fill="none"/>
<path d="M-3.8 34 L-3.8 43.6 M3.8 34 L3.8 43.6" stroke-width="5.4" stroke-linecap="round" fill="none"/>
</g>
<g transform="translate(72.4,504.6)" fill="#3b93d6" stroke="#3b93d6">
<circle cx="0" cy="5.6" r="5.6" stroke="none"/>
<path d="M-5.6 14.2 L5.6 14.2 L8.6 33.6 L-8.6 33.6 Z" stroke-width="2.2" stroke-linejoin="round"/>
<path d="M-6.6 15.4 L-12 26.4 M6.6 15.4 L12 26.4" stroke-width="3.6" stroke-linecap="round" fill="none"/>
<path d="M-3.8 34 L-3.8 43.6 M3.8 34 L3.8 43.6" stroke-width="5.4" stroke-linecap="round" fill="none"/>
</g>
<g transform="translate(102.2,504.6)" fill="#3b93d6" stroke="#3b93d6">
<circle cx="0" cy="5.6" r="5.6" stroke="none"/>
<path d="M-5.6 14.2 L5.6 14.2 L8.6 33.6 L-8.6 33.6 Z" stroke-width="2.2" stroke-linejoin="round"/>
<path d="M-6.6 15.4 L-12 26.4 M6.6 15.4 L12 26.4" stroke-width="3.6" stroke-linecap="round" fill="none"/>
<path d="M-3.8 34 L-3.8 43.6 M3.8 34 L3.8 43.6" stroke-width="5.4" stroke-linecap="round" fill="none"/>
</g>
<g transform="translate(132.0,504.6)" fill="#001965" stroke="#001965">
<circle cx="0" cy="5.6" r="5.6" stroke="none"/>
<path d="M-5.6 14.2 L5.6 14.2 L8.6 33.6 L-8.6 33.6 Z" stroke-width="2.2" stroke-linejoin="round"/>
<path d="M-6.6 15.4 L-12 26.4 M6.6 15.4 L12 26.4" stroke-width="3.6" stroke-linecap="round" fill="none"/>
<path d="M-3.8 34 L-3.8 43.6 M3.8 34 L3.8 43.6" stroke-width="5.4" stroke-linecap="round" fill="none"/>
</g>
<g transform="translate(161.8,504.6)" fill="#001965" stroke="#001965">
<circle cx="0" cy="5.6" r="5.6" stroke="none"/>
<path d="M-5.6 14.2 L5.6 14.2 L8.6 33.6 L-8.6 33.6 Z" stroke-width="2.2" stroke-linejoin="round"/>
<path d="M-6.6 15.4 L-12 26.4 M6.6 15.4 L12 26.4" stroke-width="3.6" stroke-linecap="round" fill="none"/>
<path d="M-3.8 34 L-3.8 43.6 M3.8 34 L3.8 43.6" stroke-width="5.4" stroke-linecap="round" fill="none"/>
</g>
<g transform="translate(191.6,504.6)" fill="#001965" stroke="#001965">
<circle cx="0" cy="5.6" r="5.6" stroke="none"/>
<path d="M-5.6 14.2 L5.6 14.2 L8.6 33.6 L-8.6 33.6 Z" stroke-width="2.2" stroke-linejoin="round"/>
<path d="M-6.6 15.4 L-12 26.4 M6.6 15.4 L12 26.4" stroke-width="3.6" stroke-linecap="round" fill="none"/>
<path d="M-3.8 34 L-3.8 43.6 M3.8 34 L3.8 43.6" stroke-width="5.4" stroke-linecap="round" fill="none"/>
</g>
<g transform="translate(221.4,504.6)" fill="#001965" stroke="#001965">
<circle cx="0" cy="5.6" r="5.6" stroke="none"/>
<path d="M-5.6 14.2 L5.6 14.2 L8.6 33.6 L-8.6 33.6 Z" stroke-width="2.2" stroke-linejoin="round"/>
<path d="M-6.6 15.4 L-12 26.4 M6.6 15.4 L12 26.4" stroke-width="3.6" stroke-linecap="round" fill="none"/>
<path d="M-3.8 34 L-3.8 43.6 M3.8 34 L3.8 43.6" stroke-width="5.4" stroke-linecap="round" fill="none"/>
</g>
<g transform="translate(251.2,504.6)" fill="#001965" stroke="#001965">
<circle cx="0" cy="5.6" r="5.6" stroke="none"/>
<path d="M-5.6 14.2 L5.6 14.2 L8.6 33.6 L-8.6 33.6 Z" stroke-width="2.2" stroke-linejoin="round"/>
<path d="M-6.6 15.4 L-12 26.4 M6.6 15.4 L12 26.4" stroke-width="3.6" stroke-linecap="round" fill="none"/>
<path d="M-3.8 34 L-3.8 43.6 M3.8 34 L3.8 43.6" stroke-width="5.4" stroke-linecap="round" fill="none"/>
</g>
<g transform="translate(281.0,504.6)" fill="#001965" stroke="#001965">
<circle cx="0" cy="5.6" r="5.6" stroke="none"/>
<path d="M-5.6 14.2 L5.6 14.2 L8.6 33.6 L-8.6 33.6 Z" stroke-width="2.2" stroke-linejoin="round"/>
<path d="M-6.6 15.4 L-12 26.4 M6.6 15.4 L12 26.4" stroke-width="3.6" stroke-linecap="round" fill="none"/>
<path d="M-3.8 34 L-3.8 43.6 M3.8 34 L3.8 43.6" stroke-width="5.4" stroke-linecap="round" fill="none"/>
</g>
<g transform="translate(310.8,504.6)" fill="#001965" stroke="#001965">
<circle cx="0" cy="5.6" r="5.6" stroke="none"/>
<path d="M-5.6 14.2 L5.6 14.2 L8.6 33.6 L-8.6 33.6 Z" stroke-width="2.2" stroke-linejoin="round"/>
<path d="M-6.6 15.4 L-12 26.4 M6.6 15.4 L12 26.4" stroke-width="3.6" stroke-linecap="round" fill="none"/>
<path d="M-3.8 34 L-3.8 43.6 M3.8 34 L3.8 43.6" stroke-width="5.4" stroke-linecap="round" fill="none"/>
</g>
<!-- stages -->
<g fill="#3278b0">
<rect x="384" y="397.5" width="65.3" height="164.3" rx="5"/>
<rect x="461.5" y="397.5" width="65.5" height="164.3" rx="5"/>
<rect x="539" y="397.5" width="65.5" height="164.3" rx="5"/>
<rect x="616.4" y="397.5" width="65.6" height="164.3" rx="5"/>
<path d="M448 504 H453 V497 L472.5 515 L453 533.5 V527.5 H448Z"/>
<path d="M526 504 H530.5 V497 L550 515 L530.5 533.5 V527.5 H526Z"/>
<path d="M603 504 H608 V497 L627.5 515 L608 533.5 V527.5 H603Z"/>
</g>
<!-- figure 1: pregnant -->
<g>
<ellipse cx="416" cy="545.6" rx="11" ry="5.6" fill="#1f5a8c"/>
<path d="M414 523 L413.6 540 L417.8 541 L419.5 523Z M420.3 523 L420.6 545 L424.6 545 L426.2 523Z" fill="#f9cfc0"/>
<path d="M407 541.5 C409 539 413 538.5 416 538.7 C419 539 419.8 541.5 418.5 543 C415 545 410 546.8 407.8 546.2 C406.2 545.5 406 543 407 541.5Z" fill="#fff"/>
<path d="M418.4 545 C418.5 543 420 541.3 422.5 541.4 C425 541.6 425.6 544 425 546.5 C424.4 549.5 422 551.3 420 550.8 C418.2 550.2 418 547.5 418.4 545Z" fill="#fff"/>
<path d="M407.2 507 L427.3 506 L427 524.2 L409.8 524.2Z" fill="#f07272"/>
<path d="M398.3 476 C399.5 472 404 467.5 408.5 465 L411.5 468 C408 471.5 404.5 476 402 479 C400 480 398 478.5 398.3 476Z" fill="#f9cfc0"/>
<path d="M410 468.5 C414 466.5 421 467 425.5 469 C429.5 471 431 476 431 482 L430 498 C429.5 503 428.5 507 427.8 508 C422 510 412 510 407.5 508.5 C404 505 403.6 498 403.8 492 C404 486 406 481 408 477 C408 473 408.5 470.5 410 468.5Z" fill="#fff"/>
<path d="M427.5 480 C430 482 432 487 431.8 491 C431 494.5 425 497 418 499.5 C416 501 413 501.5 412 499.5 C411.5 497 413.5 495.5 416 495.5 C420.5 494 425 492 427 490 C427.5 487 427 483 427.5 480Z" fill="#f9cfc0"/>
<path d="M411.6 466 L411.4 455 C412 452.5 415 451.5 417.5 452.5 L418 466 C416 467.5 413 467.5 411.6 466Z" fill="#fbd9cb"/>
<path d="M411 455 C411 451 414 449.4 418 449.6 C423 449.8 425.8 453 426 458 L426.3 467.5 C424.5 469.5 420.5 470.8 418 470.3 C418.3 465 417.5 459 415.8 455.5 C414 454 412 454.3 411 455Z" fill="#2a1a1f"/>
</g>
<!-- figure 2: stress -->
<g>
<ellipse cx="491.8" cy="545.6" rx="11" ry="5.6" fill="#1f5a8c"/>
<path d="M486.8 496 L504.4 496 C504.8 510 503.5 528 502.8 542 L498.6 542 L496.6 515 L494.8 540 L490 540 C489 525 487 510 486.8 496Z" fill="#22bfd6"/>
<path d="M482 541.5 C484 539.2 488 538.6 491.5 538.8 C494.5 539 495.6 541.3 494.5 543 C491 545 485.5 546.2 483 545.6 C481.4 545 481.2 543 482 541.5Z" fill="#fff"/>
<path d="M494 545 C494.3 543 496 541.3 499 541.4 C502 541.6 503.4 543.5 502.8 545.5 C502 548.5 498.5 550.2 496 549.8 C494 549.3 493.7 547 494 545Z" fill="#fff"/>
<path d="M488.8 470.5 C486 472 484 475 482.8 478 L485.5 480 C487 477 489.5 474.5 491 473Z" fill="#f07272"/>
<path d="M483 477.6 L474 485 L476.5 488 L485.6 480Z" fill="#f9cfc0"/>
<path d="M472.6 483 L475 481.6 L478.6 488.6 L476.4 490Z" fill="#1a1a1a"/>
<path d="M487.6 474.5 L493.6 473 L493.8 494.6 L487.8 493.5Z" fill="#f07272"/>
<path d="M492.5 474 C496 472.5 503 473 506 475 C508.5 478 508.6 486 508.4 492 L507.8 495.5 L492.6 495.5Z" fill="#1b7fb3"/>
<path d="M500.6 478 C501 475 504 474 507 475.5 C509.5 477.5 510.5 481 511 484.5 L505.5 486 C504 483 501.5 481 500.6 478Z" fill="#f07272"/>
<path d="M510.8 484 C513 486 515.5 488 515.3 489.5 C512 493 507 496.5 503.5 499.5 C501.5 500.8 499 500.5 498.6 498.5 C498.4 496.5 500.5 495 503 494.6 C505.5 492.5 508.5 490 510 488.5 L506 486Z" fill="#f9cfc0"/>
<path d="M488 471.6 L487.9 463 C488.5 461 491 460.5 493.2 461.5 L493.6 472 C492 473 489.3 472.8 488 471.6Z" fill="#fbd9cb"/>
<path d="M487.6 463 C487.5 458.5 491 455.7 495.5 456 C500 456.4 501.8 460.5 501.9 465 C502 469 501.5 472 499 475.2 C497 476 495 475.8 494 475 C494.3 470 493.6 465.5 492 462.5 C490.5 461.5 488.5 462 487.6 463Z" fill="#3b2320"/>
</g>
<!-- figure 3: menopause -->
<g>
<ellipse cx="569.7" cy="545.6" rx="11.5" ry="5.8" fill="#1f5a8c"/>
<path d="M566.4 517 L573 517 L572 540.5 L566.8 540.5Z M574.6 517 L581 517 L579.8 545 L575.6 545Z" fill="#4a3b38"/>
<path d="M558.2 542.5 C560 540.5 564 539.6 567.5 539.2 C570.5 539 572.2 540.6 571.6 542.2 C568 543.8 562 544.8 559.4 544.5 C558 544.2 557.6 543.3 558.2 542.5Z" fill="#14141c"/>
<path d="M571.8 546.5 C573 544.5 576 542 578.6 541.6 C580.4 541.6 581 543.3 580.4 545 C579 547.5 575.5 549.4 573.2 549.1 C571.8 548.8 571.4 547.6 571.8 546.5Z" fill="#14141c"/>
<path d="M563.6 495.5 L581.6 495 C582.2 503 582 511 581.4 518 L565.6 518 C564.5 511 563.6 503 563.6 495.5Z" fill="#9a2733"/>
<path d="M565 466 C568 464 575 464 579 466.5 C583.5 470 585 478 585.8 487 C586 490 584 492 581 493.5 L581.5 496.5 C577 498 568 498 563.4 496.5 L562 498 C561 492 561 480 561.5 474 C562 470 563.5 467.5 565 466Z" fill="#fff"/>
<path d="M565 481.5 L576.4 479.8 L578.6 489.6 L567.4 491.4Z" fill="#6b3b37"/>
<path d="M568.6 482.8 L576 481.8 L577.4 488.6 L570 489.8Z" fill="#c56c82"/>
<path d="M565.6 465.5 L565.4 456 C566 453.6 569 453 571.6 454 L572.6 466 C570.5 467.5 567.5 467 565.6 465.5Z" fill="#fbd9cb"/>
<path d="M566 456.5 C566 452 569.5 449.4 573.5 449.8 C577 450.2 578.8 453 578.6 456 C578.3 459 576.5 460.8 574.3 461 C573.5 458.5 572 456.5 570 455.6 C568.5 455.2 567 455.6 566 456.5Z" fill="#2a1a1f"/>
<path d="M577.5 452.5 L582.8 448.6 L581.2 452.6 L584.2 453.4 L580.8 455 L581.6 458 L578.2 455.6Z" fill="#2a1a1f"/>
<circle cx="578.6" cy="453.6" r="1.3" fill="#f4c6cf"/>
</g>
<!-- figure 4: premenopause -->
<g>
<ellipse cx="650.6" cy="545.2" rx="12.2" ry="6.3" fill="#1f5a8c"/>
<path d="M648.6 517.5 L658.8 517.5 C659 528 657.6 538 656.4 546.5 L652.6 546.5 L653.6 524 L651.8 539 L648.4 539.5Z" fill="#f9cfc0"/>
<path d="M642.2 540.6 C644.5 540.6 648.5 539.2 652.3 537.6 L652.8 539.6 C650 541.6 646 543 643.4 542.8 C642.2 542.4 641.8 541.4 642.2 540.6Z" fill="#14141c"/>
<path d="M651 547 C652.2 548.4 655 547 656.6 543.8 L657 546 C656.4 549 653.6 551 651.8 550.6 C650.8 550 650.6 548.2 651 547Z" fill="#14141c"/>
<path d="M644.6 509.5 L659.2 509.5 C659.4 513 659 516.5 658.4 518.4 L647.4 518.4 C646 516 645 512.5 644.6 509.5Z" fill="#3a2a28"/>
<path d="M637 493 C636.6 496 637.4 499 639 499.6 C640.6 499 641.6 496 641.4 493Z M658 504 C657.6 507.5 658.4 510.6 660 511.4 C661.8 510.6 662.4 507 662 503.4Z" fill="#f9cfc0"/>
<path d="M643 468.5 C646 466.8 654 467 658 468.6 C661 470.5 662.4 476 662.6 484 L662.4 503 L658.2 503.6 L657.8 508.6 C652 511.6 646 510.6 641.4 507.6 L641.6 492.6 L638.2 492 C638.6 484 640 474 643 468.5Z" fill="#cbc4bb"/>
<path d="M654 469 C657 468.4 660 469.6 661.2 472 C662.6 476 662.6 484 662.4 503 L658.2 503.6 C658.6 492 657.6 478 654 469Z" fill="#b3aba2"/>
<path d="M643.4 463.6 C647 465 653 464.6 657.6 463.4 L658 468.5 C655 471.4 648 472.6 643.6 471 C642.8 468.6 642.8 466 643.4 463.6Z" fill="#a272a4"/>
<path d="M644 464.4 L643.9 455 C644.6 452.8 647.6 452.4 650 453.4 L650.8 465 C648.6 466.2 645.8 465.8 644 464.4Z" fill="#fbd9cb"/>
<path d="M643.9 455.5 C643.8 451 647 448.2 651 448.4 C655.5 448.8 657 452.5 657 457 L656.9 464.6 C655 466 652 466.2 650.6 465.6 C650.8 461.5 650 457.5 648.2 454.8 C646.6 454 645 454.4 643.9 455.5Z" fill="#7c7c7c"/>
</g>

<!-- fatwoman -->
<g>
<path d="M102 738 H127.7 M112 781 H127.7 M102.5 862.8 H127.2 M114 910.5 H127.2" stroke="#8fb3bd" stroke-width="1" fill="none"/>
<!-- scale -->
<path d="M38 931.6 Q35.4 931.6 35.6 927 L36.2 924 L112.6 924 L113.2 927 Q113.4 931.6 110.8 931.6Z" fill="#8e9a8c"/>
<path d="M50.6 904.2 L98 904.2 Q100.8 904.2 102 906.6 L112.6 923 Q113.6 926 110.4 926 L38.4 926 Q35.2 926 36.2 923 L46.6 906.6 Q47.8 904.2 50.6 904.2Z" fill="#dde2d2"/>
<path d="M52.2 906.6 L96.6 906.6 L106.6 922.6 L42.2 922.6Z" fill="#cfd5c3"/>
<rect x="61.6" y="917.6" width="25.4" height="5.8" rx="1" fill="#f4f6ee"/>
<rect x="63" y="918.8" width="22.6" height="3.6" fill="#37a79c"/>
<rect x="70" y="918.8" width="8" height="3.6" fill="#8fd0c8"/>
<!-- shoes -->
<ellipse cx="62.4" cy="909.4" rx="12.6" ry="4.6" fill="#f5a21f"/>
<ellipse cx="86.2" cy="909.4" rx="12.6" ry="4.6" fill="#f5a21f"/>
<path d="M55 906 L62 909 M93.6 906 L86.6 909" stroke="#d98512" stroke-width="0.8"/>
<!-- arms -->
<path d="M50.5 779 C44 790 35 806 27 818 C22 819 14 821 10.6 826 C9 829 9.4 832.6 11.6 833.6 C13 833 13.4 830.6 15 828.6 C16 830 16.4 831.6 18 831.6 C19.6 830 19 827.6 20.4 826 C24 825.6 29 824 32.6 821 C40 812 49 800 56 790Z" fill="#fbd3bd"/>
<path d="M97.5 779 C104 790 113 806 121 818 C126 819 134 821 137.4 826 C139 829 138.6 832.6 136.4 833.6 C135 833 134.6 830.6 133 828.6 C132 830 131.6 831.6 130 831.6 C128.4 830 129 827.6 127.6 826 C124 825.6 119 824 115.4 821 C108 812 99 800 92 790Z" fill="#fbd3bd"/>
<!-- pants -->
<path d="M42 817 L106 817 C106 832 100 850 96 866 C92.6 882 90.4 896 89 907 L76.4 907 L74.4 840 L71.6 907 L60.6 907 C59 894 56.4 880 52.6 866 C48 850 42 832 42 817Z" fill="#14a79d"/>
<path d="M74.4 838 L74 907" stroke="#0f8d85" stroke-width="1" fill="none"/>
<!-- neck -->
<path d="M67 750 L82.8 750 L82.8 762 C80 766 70 766 67 762Z" fill="#f6c4ad"/>
<!-- shirt -->
<path d="M66 759 C58 761 51 765 48.8 772 L47.6 781 L54 783.6 C46 792 40.4 802 41 812 C41.4 818 43 822 44.4 823.6 C56 827.4 92 827.4 103.6 823.6 C105 822 106.6 818 107 812 C107.6 802 102 792 94 783.6 L100.4 781 L99.2 772 C97 765 90 761 82 759 L76 761.6 L74.4 770 L72.6 761.6Z" fill="#ff681c"/>
<path d="M56 790 C58 796 64 798.6 71 796 M92 790 C90 796 84 798.6 77 796" stroke="#e9560f" stroke-width="0.9" fill="none"/>
<!-- face -->
<path d="M58.7 736 C58.7 728 64 723.6 74.4 723.6 C85 723.6 90.1 728 90.1 736 L90.1 744 C90.1 752 84 756.4 74.4 756.4 C65 756.4 58.7 752 58.7 744Z" fill="#fcdac8"/>
<!-- hair -->
<path d="M54 746 C53 728 58 712.2 74 712.2 C90 712.2 95 728 93.9 746 C93.6 751 91 755 86 756.6 C89 752 90.4 746 90.1 738 C89.6 732 86 728 80 726.6 C74 725.6 66 725 62 724.6 C59.4 728 58.4 733 58.6 739 C58.6 746 59.4 752 62 756.6 C57 755 54.3 751 54 746Z" fill="#8a4a2c"/>
</g>

<!-- hands -->
<g>
<clipPath id="p4clip"><rect x="362" y="686" width="354" height="269"/></clipPath>
<g clip-path="url(#p4clip)">
<!-- hand 1 top-left -->
<path d="M361 685 L387.5 685 L373.5 711 L361 707Z" fill="#74b3d6"/>
<circle cx="369.1" cy="707" r="0.8" fill="#1a2a3a"/>
<path d="M386.6 689.2 C395 691 406 695.5 412.5 699.5 C414.5 701 415.5 703 416.5 704.8 C425 710 434.5 716 441 720.5 C443 722.5 441.8 725.8 438.8 725.4 C432 724.4 424 721.6 418.6 719.8 C418 721.6 416.6 722.6 415.4 723 C415 725 413.6 726.6 411.6 727.2 C411.2 729.2 409.6 730.8 407.4 731 C406.8 733.2 404.6 734.6 402.4 734.6 C400 734.8 398 733.6 396.4 732 C388 725 379 716.6 372.8 710.4 C376 703 381 695 386.6 689.2Z" fill="#fdc9b6"/>
<!-- hand 2 mid-left -->
<path d="M361 800.5 L377.2 803.8 L373.2 834.2 L361 835.4Z" fill="#376e93"/>
<path d="M377 803.8 L386.6 804.6 L384 829.8 L373.4 831Z" fill="#8dc0b6"/>
<circle cx="380.6" cy="826.8" r="0.8" fill="#1a2a3a"/>
<path d="M386.4 804.6 C391 803.4 396 801.6 400 801.2 C404 800.4 409 800.2 411.6 800.8 C413.6 801.4 414.6 802.8 415.4 804 C423 803.6 433 803.2 440 803.4 C444 803.6 445.2 807.4 442.6 809.2 C437 811.4 429 812.8 423.6 813.8 C424.6 815.4 424.6 817.6 423.4 818.8 C424 820.6 423.4 822.8 421.8 823.6 C422.2 825.4 421.6 827.4 420.2 828.2 C420.4 830.2 419 832 417 832.4 C411 833 404 832.6 398 832 C393 831.4 388 830.6 383.8 829.8Z" fill="#fdc9b6"/>
<!-- hand 3 bottom-left -->
<path d="M361 927 L370.8 922.4 L389.2 944 L384.6 956 L361 956Z" fill="#ee8060"/>
<path d="M370.6 922.6 C373.6 917.6 377.6 912.4 381 908.6 C384.4 904.6 388.6 900.4 391.6 898.4 C393.6 897.2 395.8 897.6 396.6 899.6 C397 900.8 397.2 901.8 397.8 902.4 C399.4 901.6 401.4 902.2 402 904 C403.6 903.4 405.6 904 406.2 905.6 C408 905.4 409.6 906.6 410 908.4 C410.4 909 410.6 909.6 410.8 910 C416.6 906 424 901.4 429.4 898.6 C432.4 897.2 434.4 900 432.8 902.6 C428 908.6 419 917 413.4 921.6 C412.4 924 410.8 926.4 409.6 928 C409.6 930 409 931.6 407.8 932.6 C405.6 934.8 403 936.8 400.6 938 C396.6 940.4 392.6 942.4 388.8 944Z" fill="#fdc9b6"/>
<!-- hand 4 top-right -->
<path d="M702.4 685 L717 685 L717 699Z" fill="#6b3d7a"/>
<path d="M687.4 692.2 L691.6 685 L702.6 685 L717 698.6 L717 714.6 L708.4 718.8Z" fill="#8b96e0"/>
<circle cx="712.7" cy="709.7" r="0.8" fill="#1a1a3a"/>
<path d="M687.6 692 C681 694.6 673 698 667.6 700.8 C664 702.8 660.6 705 658.8 707 C657.4 709 656.8 712 656.8 714.6 C656.4 716.6 655.6 718.4 654.8 719.8 C647 726.4 637 735 630.4 740.6 C627.6 743.4 628.4 746.8 631.8 747 C638 745 649 739 656.2 734.8 C656.6 736.6 658 737.8 659.4 738 C660 739.8 661.6 741.2 663.4 741.2 C664.2 743 666 744.4 668 744.2 C669 746.2 671 747.8 673.2 747.8 C675.4 749.2 679 748.8 681.4 747.4 C688 742.6 696 735.4 701.4 729.8 C704.4 726.4 706.8 722.4 708.4 718.6Z" fill="#fdc9b6"/>
<!-- hand 5 mid-right -->
<path d="M709.4 802.6 L717 801.8 L717 837.2 L706.2 834.2Z" fill="#376e93"/>
<path d="M698.2 807.6 L709.6 805.6 L706.4 834.2 L698.8 833.6Z" fill="#8dc0b6"/>
<circle cx="701.4" cy="810.4" r="0.8" fill="#1a2a3a"/>
<path d="M698.4 807.6 C690 806.2 678 805 670 804.6 C667 804.4 664 804.4 662.6 804.6 C660.6 805.2 659.8 807.2 660.2 809 C658.8 810.2 658.4 812.4 659 813.8 C657.8 815 657.6 817 658.2 818.2 C656.8 819.4 656.4 821.4 657 822.8 C656.6 824 656.2 825 655.6 825.8 C650 826.8 644 827.8 639 828.8 C635.6 829.8 635.2 833.2 638.2 834.2 C646 835 657 834.8 665 834.6 C666 836.4 668 837.6 670 838 C674 838.8 679 838 683 836.6 C688 835.4 694 834.2 698.8 833.6Z" fill="#fdc9b6"/>
<!-- hand 6 bottom-right -->
<path d="M709.4 929.4 L717 931.6 L717 956 L697 956 L698.2 951Z" fill="#6aa9c0"/>
<path d="M717 942 L712 956 L717 956Z" fill="#7ab8a0"/>
<circle cx="702" cy="951.8" r="0.8" fill="#1a2a3a"/>
<path d="M709.6 929.6 C705 924.4 699 918 694 913.4 C691.6 912.2 688.6 912 686.2 912 C684.4 911.4 682.6 910.4 681.2 909.4 C675.6 905.6 668.6 901 663.6 898.2 C660.4 896.4 657.4 898.2 658.6 901.2 C661.6 905.6 667 910.6 671.2 914.6 C669.8 915.6 669.2 917.2 669.6 918.6 C668.4 919.6 668 921.4 668.6 922.6 C667.4 923.8 666.8 925.6 667.4 926.8 C666 928 665.4 930 665.8 931.4 C664.8 933 665 935 666.4 936 C671 939 677 942.6 682.6 945.2 C687.6 947.6 693 949.4 698.2 951Z" fill="#fdc9b6"/>
</g>
</g>

<!-- doctor -->
<g>
<!-- coat -->
<path d="M21.8 1124 L21.8 1110 Q22 1104.2 28 1103.8 L44 1103 L57 1103 L73 1103.8 Q79 1104.2 79 1110 L79 1124Z" fill="#fff"/>
<path d="M38.6 1103.4 L45.4 1102.4 L55.4 1102.4 L60.9 1103.4 L56.2 1124 L47.2 1124Z" fill="#c9cdd0"/>
<path d="M42.5 1104.5 L57.4 1104.5 L54.6 1124 L48.6 1124Z" fill="#b5b9bd"/>
<!-- neck -->
<path d="M45.3 1094 L55.1 1094 L55.1 1103.6 Q50.2 1109 45.3 1103.6Z" fill="#eaa57c"/>
<!-- face -->
<path d="M40.4 1078 C40.4 1072 44 1070 50.2 1070 C56.4 1070 60 1072 60 1078 L60 1088 C60 1094.5 55.5 1099.2 50.2 1099.2 C45 1099.2 40.4 1094.5 40.4 1088Z" fill="#f1b28a"/>
<!-- hair -->
<path d="M39.6 1082.6 C38.2 1076 38.6 1069.6 42 1067.6 C46 1065.8 54 1065.8 58 1066.8 C61 1067.8 61.4 1071 60.8 1075 C60.6 1078 60.4 1080.6 60 1082.6 C59.6 1079.6 59 1077.4 58 1076 C54 1076.6 49 1075.6 46 1073.4 C43.6 1074.4 42 1076 41.2 1078 C40.6 1079.6 40.2 1081 39.6 1082.6Z" fill="#b4653a"/>
<!-- glasses -->
<rect x="41.6" y="1081.2" width="7.6" height="4.6" rx="1.2" fill="#f3f3f1" stroke="#47281e" stroke-width="1.1"/>
<rect x="51.8" y="1081.2" width="7.6" height="4.6" rx="1.2" fill="#f3f3f1" stroke="#47281e" stroke-width="1.1"/>
<path d="M49.2 1082.8 L51.8 1082.8" stroke="#47281e" stroke-width="1.1"/>
</g>

<!-- food -->
<g>
<!-- burger -->
<path d="M27.7 1170.2 C27.7 1163 32 1158.6 37.4 1158.6 C43 1158.6 47.2 1163 47.2 1170.2Z" fill="#fcd877"/>
<rect x="27.7" y="1170" width="19.5" height="3.4" fill="#c45b27"/>
<path d="M31.2 1171.2 L37 1171.2 L34.1 1174.2Z" fill="#fde04a"/>
<path d="M28.2 1173.4 L46.8 1173.4 L46.8 1174.6 Q46.8 1176.4 44.8 1176.4 L30.2 1176.4 Q28.2 1176.4 28.2 1174.6Z" fill="#fce2a2"/>
<!-- chocolate -->
<rect x="50.8" y="1160.3" width="26" height="16.6" rx="1" fill="#7b3321"/>
<g fill="#a24a30">
<rect x="52.1" y="1161.6" width="4" height="4"/><rect x="56.9" y="1161.6" width="4" height="4"/><rect x="61.7" y="1161.6" width="4" height="4"/><rect x="66.5" y="1161.6" width="4" height="4"/><rect x="71.3" y="1161.6" width="4" height="4"/>
<rect x="52.1" y="1166.5" width="4" height="4"/><rect x="56.9" y="1166.5" width="4" height="4"/><rect x="61.7" y="1166.5" width="4" height="4"/><rect x="66.5" y="1166.5" width="4" height="4"/><rect x="71.3" y="1166.5" width="4" height="4"/>
<rect x="52.1" y="1171.4" width="4" height="4"/><rect x="56.9" y="1171.4" width="4" height="4"/><rect x="61.7" y="1171.4" width="4" height="4"/><rect x="66.5" y="1171.4" width="4" height="4"/><rect x="71.3" y="1171.4" width="4" height="4"/>
</g>
<!-- bottle -->
<rect x="33.3" y="1178" width="2.8" height="5" fill="#f3dcc0"/>
<path d="M33.7 1183 L35.7 1183 L36 1191.4 L41.8 1191.4 L41.8 1205.4 L27.7 1205.4 L27.7 1191.4 L33.4 1191.4Z" fill="#c9a898"/>
<path d="M34.7 1195.6 L37.5 1198.6 L34.7 1201.6 L31.9 1198.6Z" fill="#8a1f40"/>
<!-- pizza -->
<circle cx="62.7" cy="1194" r="12.7" fill="#f2a233"/>
<circle cx="62.7" cy="1194" r="10.8" fill="#f9d27e"/>
<path d="M62.7 1194 L64 1181.4 M62.7 1194 L50.6 1197" stroke="#f2a233" stroke-width="0.7"/>
<g fill="#e9513f"><circle cx="56" cy="1190" r="2.2"/><circle cx="68.2" cy="1189.6" r="2.2"/><circle cx="57.6" cy="1198.8" r="2.2"/><circle cx="67" cy="1199.6" r="2.2"/><circle cx="62" cy="1203" r="1.5"/></g>
<g fill="#7f9a3c"><circle cx="60.8" cy="1190.6" r="1.2"/><circle cx="66.6" cy="1194.6" r="1.3"/><circle cx="55" cy="1195.6" r="1.1"/><circle cx="61.2" cy="1202" r="1.1"/></g>
</g>

<!-- monitor -->
<g>
<path d="M37.1 1297 L62.3 1297 L62.3 1300.8 L69.1 1303.6 L29.3 1303.6 L37.1 1300.8Z" fill="#12a7a9"/>
<rect x="18.8" y="1258.9" width="61.8" height="38.8" rx="2" fill="#1cb9c1"/>
<rect x="22.2" y="1262" width="45.3" height="31.5" rx="1.5" fill="#1a78c0"/>
<rect x="70.7" y="1262.6" width="6.2" height="10.6" rx="1.4" fill="#2fdad8"/>
<g fill="#d3f8f6"><rect x="71" y="1276.7" width="5.8" height="3.2" rx="1.6"/><rect x="71" y="1281.5" width="5.8" height="3.2" rx="1.6"/><rect x="71" y="1286.6" width="5.8" height="3.2" rx="1.6"/><rect x="71" y="1291.3" width="5.8" height="3.2" rx="1.6"/></g>
<path d="M22.2 1278.3 L27.7 1278.3 L30.6 1269.9 L31.2 1287.2 L34.5 1278.8 L40.3 1278.3 L46 1265.7 L46.6 1290.3 L51.3 1278.3 L57 1277.8 L60.7 1271 L61.4 1278.1 L67.5 1278.3" fill="none" stroke="#fff" stroke-width="1.1" stroke-linejoin="round"/>
</g>

<!-- men -->
<defs><mask id="mm" maskUnits="userSpaceOnUse" x="-13" y="-1" width="26" height="50"><rect x="-13" y="-1" width="26" height="50" fill="#fff"/><circle cx="0" cy="6.2" r="7.3" fill="#000"/></mask>
<g id="man"><circle cx="0" cy="6.2" r="6.2"/><path mask="url(#mm)" d="M-7.9 12.1 H7.9 Q11.1 12.1 11.1 15.3 V28 Q11.1 29.7 9.4 29.7 H8.7 Q7 29.7 7 28 V19.5 H6.1 V45.2 Q6.1 46.9 4.4 46.9 H2.5 Q0.8 46.9 0.8 45.2 V31 H-0.8 V45.2 Q-0.8 46.9 -2.5 46.9 H-4.4 Q-6.1 46.9 -6.1 45.2 V19.5 H-7 V28 Q-7 29.7 -8.7 29.7 H-9.4 Q-11.1 29.7 -11.1 28 V15.3 Q-11.1 12.1 -7.9 12.1Z"/></g>
<clipPath id="halfL"><rect x="-12" y="-1" width="12.1" height="50"/></clipPath></defs>
<use href="#man" transform="translate(413.5,1078)" fill="#2a918b"/>
<use href="#man" transform="translate(440.7,1078)" fill="#2a918b"/>
<use href="#man" transform="translate(468.0,1078)" fill="#2a918b"/>
<use href="#man" transform="translate(495.2,1078)" fill="#2a918b"/>
<use href="#man" transform="translate(522.4,1078)" fill="#ffffff"/>
<use href="#man" transform="translate(549.6,1078)" fill="#ffffff"/>
<use href="#man" transform="translate(576.9,1078)" fill="#ffffff"/>
<use href="#man" transform="translate(604.1,1078)" fill="#ffffff"/>
<use href="#man" transform="translate(631.3,1078)" fill="#ffffff"/>
<use href="#man" transform="translate(658.6,1078)" fill="#ffffff"/>
<use href="#man" transform="translate(413.5,1209.4)" fill="#3b97d3"/>
<use href="#man" transform="translate(440.7,1209.4)" fill="#3b97d3"/>
<use href="#man" transform="translate(468.0,1209.4)" fill="#3b97d3"/>
<use href="#man" transform="translate(495.2,1209.4)" fill="#3b97d3"/>
<use href="#man" transform="translate(522.4,1209.4)" fill="#3b97d3"/>
<use href="#man" transform="translate(549.6,1209.4)" fill="#3b97d3"/>
<use href="#man" transform="translate(576.9,1209.4)" fill="#3b97d3"/>
<use href="#man" transform="translate(604.1,1209.4)" fill="#ffffff"/>
<g transform="translate(604.1,1209.4)"><g clip-path="url(#halfL)"><use href="#man" fill="#3b97d3"/></g></g>
<use href="#man" transform="translate(631.3,1209.4)" fill="#ffffff"/>
<use href="#man" transform="translate(658.6,1209.4)" fill="#ffffff"/>
<!-- logo -->
<g fill="none" stroke="#fff" stroke-width="1.7" stroke-linecap="round" stroke-linejoin="round">
<circle cx="631.8" cy="1372.6" r="4.8" stroke-width="2.1"/>
<path d="M624.4 1374.6 C624.6 1379.6 628.6 1382.2 632.8 1381.8 C635.6 1381.4 637.6 1380.2 638.6 1378.2"/>
<path d="M630.6 1382.6 C627.6 1382 625.2 1383 624.6 1384.6 C623.6 1385.8 623.2 1387 623.8 1388 C625 1389.6 627.2 1389.8 628.6 1389 C629.8 1390.6 631.2 1392.8 633.2 1395.2"/>
<path d="M633.6 1385.2 C640 1384.8 652 1384.6 657.4 1385 C660.4 1385.6 661.6 1388.6 661.8 1392 C662 1398 661.8 1404 661 1409.8 L657.6 1409.8 C658.2 1404 658 1399 657.4 1395.6"/>
<path d="M633.2 1395.2 C632 1400 630.4 1405 628.8 1410 L632.2 1410 C633.6 1405.4 635.4 1400.6 637.4 1397.6 C639.4 1401.6 641 1405.6 642 1410 L645.4 1410 C644.8 1405 643.2 1400 640.8 1396 C645 1394.6 650 1394.4 653.4 1395.4 C651.4 1400 649.4 1405 647.8 1410 L651.2 1410 C653 1405 655.2 1400 657.4 1395.6"/>
<path d="M634.6 1386.6 C634.2 1389.6 635 1392 636.6 1393.4 M638.4 1386 L638.8 1389.4 M641.4 1386 C641.2 1389 641.8 1390.8 643.4 1391.4 L648 1391.4 C649.4 1390.8 650 1389 650 1386 M653 1386 L653 1389.6 M656 1386 C656.4 1388.6 656 1391.6 654.6 1393.4" stroke-width="1"/>
<circle cx="626.8" cy="1385.4" r="0.3" stroke-width="0.8"/>
</g>
<text x="607" y="1421.6" textLength="74.6" lengthAdjust="spacingAndGlyphs" font-family="'Liberation Sans',Arial,sans-serif" font-size="13.4" fill="#fff">novo nordisk</text>
<text x="681.8" y="1412" font-family="'Liberation Sans',Arial,sans-serif" font-size="4.5" fill="#fff">®</text>

</svg>
<div class="t b k3" style="left:40.5px;top:43.0px;font-size:26px;letter-spacing:0.286px;color:#a8d3cf">GREUTATEA DE A FI FEMEIE.</div>
<div class="t b k3" style="left:40.5px;top:89.3px;font-size:28px;letter-spacing:0.562px;color:#ffffff">96% dintre românce spun că greutatea</div>
<div class="t b k3" style="left:40.5px;top:122.3px;font-size:28px;letter-spacing:0.547px;color:#ffffff">este influențată de biologie, nu doar de voință</div>
<div class="t r" style="left:41.0px;top:193.3px;font-size:9px;letter-spacing:0.266px;color:#ffffff">Studiu realizat la inițiativa Novo Nordisk | 4 Martie – Ziua Mondială a Obezității</div>
<div class="t b k3" style="left:40.7px;top:245.2px;font-size:23.4px;letter-spacing:-1.022px;color:#a8d3cf">PERCEPȚIA</div>
<div class="t b k3" style="left:40.7px;top:274.5px;font-size:23.4px;letter-spacing:0.305px;color:#a8d3cf">OBEZITĂȚII</div>
<div class="t b k3" style="left:384.2px;top:245.2px;font-size:23.4px;letter-spacing:-1.257px;color:#a8d3cf">ETAPELE CARE</div>
<div class="t b k3" style="left:384.2px;top:274.5px;font-size:23.4px;letter-spacing:-0.032px;color:#a8d3cf">SCHIMBĂ CORPUL</div>
<div class="t b k3" style="left:40.7px;top:620.7px;font-size:23.4px;letter-spacing:0.413px;color:#a8d3cf">IMPACTUL</div>
<div class="t b k3" style="left:40.7px;top:650.2px;font-size:23.4px;letter-spacing:-0.050px;color:#a8d3cf">ASUPRA SĂNĂTĂȚII</div>
<div class="t b k3" style="left:384.2px;top:620.7px;font-size:23.4px;letter-spacing:0.068px;color:#a8d3cf">STIGMATIZAREA</div>
<div class="t b k3" style="left:384.2px;top:650.2px;font-size:23.4px;letter-spacing:-0.197px;color:#a8d3cf">&amp; PRESIUNEA</div>
<div class="t b k3" style="left:40.7px;top:988.4px;font-size:23.4px;letter-spacing:0.008px;color:#a8d3cf">DIALOGUL</div>
<div class="t b k3" style="left:40.7px;top:1018.0px;font-size:23.4px;letter-spacing:-0.244px;color:#a8d3cf">MEDICAL</div>
<div class="t b k3" style="left:31.5px;top:334.6px;font-size:30px;letter-spacing:0.977px;color:#2a918b">12%</div>
<div class="t b k2" style="left:97.7px;top:331.0px;font-size:13.8px;letter-spacing:0.161px;color:#001965">o consideră exclusiv</div>
<div class="t b k2" style="left:97.7px;top:348.6px;font-size:13.8px;letter-spacing:0.312px;color:#001965">boală cronică</div>
<div class="t b k3" style="left:31.5px;top:385.6px;font-size:30px;letter-spacing:0.977px;color:#3b97d3">19%</div>
<div class="t b k2" style="left:97.7px;top:381.9px;font-size:13.8px;letter-spacing:0.404px;color:#001965">o văd doar a problemă</div>
<div class="t b k2" style="left:97.7px;top:399.6px;font-size:13.8px;letter-spacing:0.287px;color:#001965">de stil de viață</div>
<div class="t b k3" style="left:31.5px;top:453.6px;font-size:30px;letter-spacing:0.977px;color:#001965">67%</div>
<div class="t b k2" style="left:97.7px;top:432.7px;font-size:13.8px;letter-spacing:0.229px;color:#001965">consideră că obezitatea</div>
<div class="t b k2" style="left:97.7px;top:450.6px;font-size:13.8px;letter-spacing:0.044px;color:#001965">este și boală cronică,</div>
<div class="t b k2" style="left:97.7px;top:467.5px;font-size:13.8px;letter-spacing:0.202px;color:#001965">și problemă de stil de viață</div>
<div class="t b k3" style="left:384.9px;top:330.9px;font-size:27.3px;letter-spacing:0.280px;color:#001965">96%</div>
<div class="t b k2" style="left:446.7px;top:328.2px;font-size:13.1px;letter-spacing:0.095px;color:#ffffff">spun că anumite etape ale</div>
<div class="t b k2" style="left:446.7px;top:344.1px;font-size:13.1px;letter-spacing:0.259px;color:#ffffff">vieții influențează greutatea</div>
<div class="t b k2" style="left:383.8px;top:374.6px;font-size:13.1px;letter-spacing:-0.013px;color:#ffffff">Etapele cu impact major:</div>
<div class="t b k3" style="left:133.5px;top:722.9px;font-size:29px;letter-spacing:0.977px;color:#a8d3cf">62%</div>
<div class="t b k2" style="left:199.2px;top:736.3px;font-size:13.1px;letter-spacing:-0.035px;color:#ffffff">disconfort fizic</div>
<div class="t b k3" style="left:133.5px;top:766.3px;font-size:29px;letter-spacing:0.977px;color:#a8d3cf">52%</div>
<div class="t b k2" style="left:199.2px;top:779.9px;font-size:13.1px;letter-spacing:0.266px;color:#ffffff">probleme emoționale</div>
<div class="t b k3" style="left:133.5px;top:848.0px;font-size:29px;letter-spacing:0.977px;color:#a8d3cf">44%</div>
<div class="t b k2" style="left:199.2px;top:861.4px;font-size:13.1px;letter-spacing:0.072px;color:#ffffff">scăderea energiei</div>
<div class="t b k3" style="left:133.5px;top:896.3px;font-size:29px;letter-spacing:0.977px;color:#a8d3cf">27%</div>
<div class="t b k2" style="left:199.2px;top:895.6px;font-size:13.1px;letter-spacing:0.167px;color:#ffffff">probleme medicale</div>
<div class="t b k2" style="left:199.2px;top:910.9px;font-size:13.1px;letter-spacing:0.272px;color:#ffffff">confirmate</div>
<div class="t b k3" style="left:460.4px;top:705.2px;font-size:26.6px;letter-spacing:1.433px;color:#001965">55%</div>
<div class="t b k2" style="left:460.0px;top:735.0px;font-size:13.1px;letter-spacing:0.081px;color:#ffffff">au fost judecate</div>
<div class="t b k2" style="left:460.0px;top:750.3px;font-size:13.1px;letter-spacing:0.152px;color:#ffffff">din cauza greutății</div>
<div class="t b k3" style="left:460.4px;top:783.9px;font-size:26.6px;letter-spacing:1.433px;color:#a8d3cf">54%</div>
<div class="t b k2" style="left:460.0px;top:810.4px;font-size:13.1px;letter-spacing:0.077px;color:#ffffff">spun că gândurile legate</div>
<div class="t b k2" style="left:460.0px;top:825.7px;font-size:13.1px;letter-spacing:0.150px;color:#ffffff">de greutate consumă</div>
<div class="t b k2" style="left:460.0px;top:841.9px;font-size:13.1px;letter-spacing:0.347px;color:#ffffff">multă energie mentală</div>
<div class="t b k3" style="left:460.4px;top:865.7px;font-size:26.6px;letter-spacing:1.433px;color:#ffffff">42%</div>
<div class="t b k2" style="left:460.0px;top:892.5px;font-size:13.1px;letter-spacing:0.042px;color:#ffffff">consideră realistă presiunea</div>
<div class="t b k2" style="left:460.0px;top:908.1px;font-size:13.1px;letter-spacing:0.193px;color:#ffffff">de a reveni rapid la greutatea</div>
<div class="t b k2" style="left:460.0px;top:924.1px;font-size:13.1px;letter-spacing:0.037px;color:#ffffff">de dinainte de sarcină</div>
<div class="t b k3" style="left:89.0px;top:1081.8px;font-size:29px;letter-spacing:1.127px;color:#2a918b">12%</div>
<div class="t b k2" style="left:91.4px;top:1110.9px;font-size:14.3px;letter-spacing:0.165px;color:#001965">au apelat la un medic</div>
<div class="t b k3" style="left:91.4px;top:1142.4px;font-size:29.5px;letter-spacing:1.127px;color:#3b97d3">58%</div>
<div class="t b k2" style="left:91.4px;top:1175.4px;font-size:14.3px;letter-spacing:0.193px;color:#001965">nu au cerut niciodată ajutor</div>
<div class="t b k2" style="left:91.4px;top:1192.2px;font-size:14.3px;letter-spacing:-0.103px;color:#001965">specializat</div>
<div class="t b k3" style="left:91.4px;top:1227.3px;font-size:26.8px;letter-spacing:0.730px;color:#001965">68%</div>
<div class="t b k2" style="left:91.4px;top:1255.4px;font-size:14.3px;letter-spacing:0.157px;color:#001965">ar privi cu deschidere tratamentul</div>
<div class="t b k2" style="left:91.4px;top:1272.8px;font-size:14.3px;letter-spacing:0.139px;color:#001965">pe termen lung dacă ar înțelege</div>
<div class="t b k2" style="left:91.4px;top:1290.3px;font-size:14.3px;letter-spacing:-0.019px;color:#001965">că obezitatea este o boală cronică</div>
<div class="t b k3" style="left:400.9px;top:1127.3px;font-size:44.5px;letter-spacing:1.261px;color:#2a918b">40%</div>
<div class="t r" style="left:500.5px;top:1133.5px;font-size:14.5px;letter-spacing:0.139px;color:#ffffff">dintre adulții din România</div>
<div class="t r" style="left:500.5px;top:1149.9px;font-size:14.5px;letter-spacing:-0.044px;color:#ffffff">trăiesc cu obezitate</div>
<div class="t r" style="left:404.7px;top:1190.0px;font-size:14px;letter-spacing:-0.253px;color:#ffffff">Peste</div>
<div class="t b k3" style="left:400.0px;top:1259.2px;font-size:44.5px;letter-spacing:1.611px;color:#3b97d3">70%</div>
<div class="t r" style="left:500.5px;top:1265.3px;font-size:14.5px;letter-spacing:0.060px;color:#ffffff">sunt în zona de suprapondere</div>
<div class="t r" style="left:500.5px;top:1282.2px;font-size:14.5px;letter-spacing:-0.089px;color:#ffffff">sau obezitate</div>
<div class="t r" style="left:38.1px;top:1375.8px;font-size:8.3px;letter-spacing:0.181px;color:#ffffff">Datele prezentate provin dintr-un studiu realizat în februarie 2026, prin metoda CAWI (interviuri online),</div>
<div class="t r" style="left:38.1px;top:1386.6px;font-size:8.3px;letter-spacing:0.117px;color:#ffffff">pe un eșantion de 1.102 femei cu vârsta de peste 18 ani.</div>
<div class="t r" style="left:38.1px;top:1415.5px;font-size:8.3px;letter-spacing:-0.168px;color:#ffffff">RO26CORP00002</div>
<div class="t b" style="left:400.1px;top:401.8px;font-size:15.5px;letter-spacing:0.484px;color:#ffffff">29%</div>
<div class="t b" style="left:401.3px;top:419.1px;font-size:7.5px;letter-spacing:-0.198px;color:#001965">Sarcina /</div>
<div class="t b" style="left:400.5px;top:427.3px;font-size:7.5px;letter-spacing:0.019px;color:#001965">perioada</div>
<div class="t b" style="left:397.1px;top:435.3px;font-size:7.5px;letter-spacing:0.087px;color:#001965">postnatală</div>
<div class="t b" style="left:478.0px;top:401.8px;font-size:15.5px;letter-spacing:0.484px;color:#ffffff">29%</div>
<div class="t b" style="left:485.1px;top:419.1px;font-size:7.5px;letter-spacing:-0.241px;color:#001965">Stres</div>
<div class="t b" style="left:477.5px;top:427.3px;font-size:7.5px;letter-spacing:0.113px;color:#001965">prelungit</div>
<div class="t b" style="left:555.4px;top:401.8px;font-size:15.5px;letter-spacing:0.484px;color:#ffffff">14%</div>
<div class="t b" style="left:550.9px;top:419.1px;font-size:7.5px;letter-spacing:0.020px;color:#001965">Menopauza</div>
<div class="t b" style="left:637.4px;top:401.8px;font-size:15.5px;letter-spacing:0.594px;color:#ffffff">8%</div>
<div class="t b" style="left:622.4px;top:419.1px;font-size:7.5px;letter-spacing:-0.033px;color:#001965">Premenopauza</div>
</body></html>
